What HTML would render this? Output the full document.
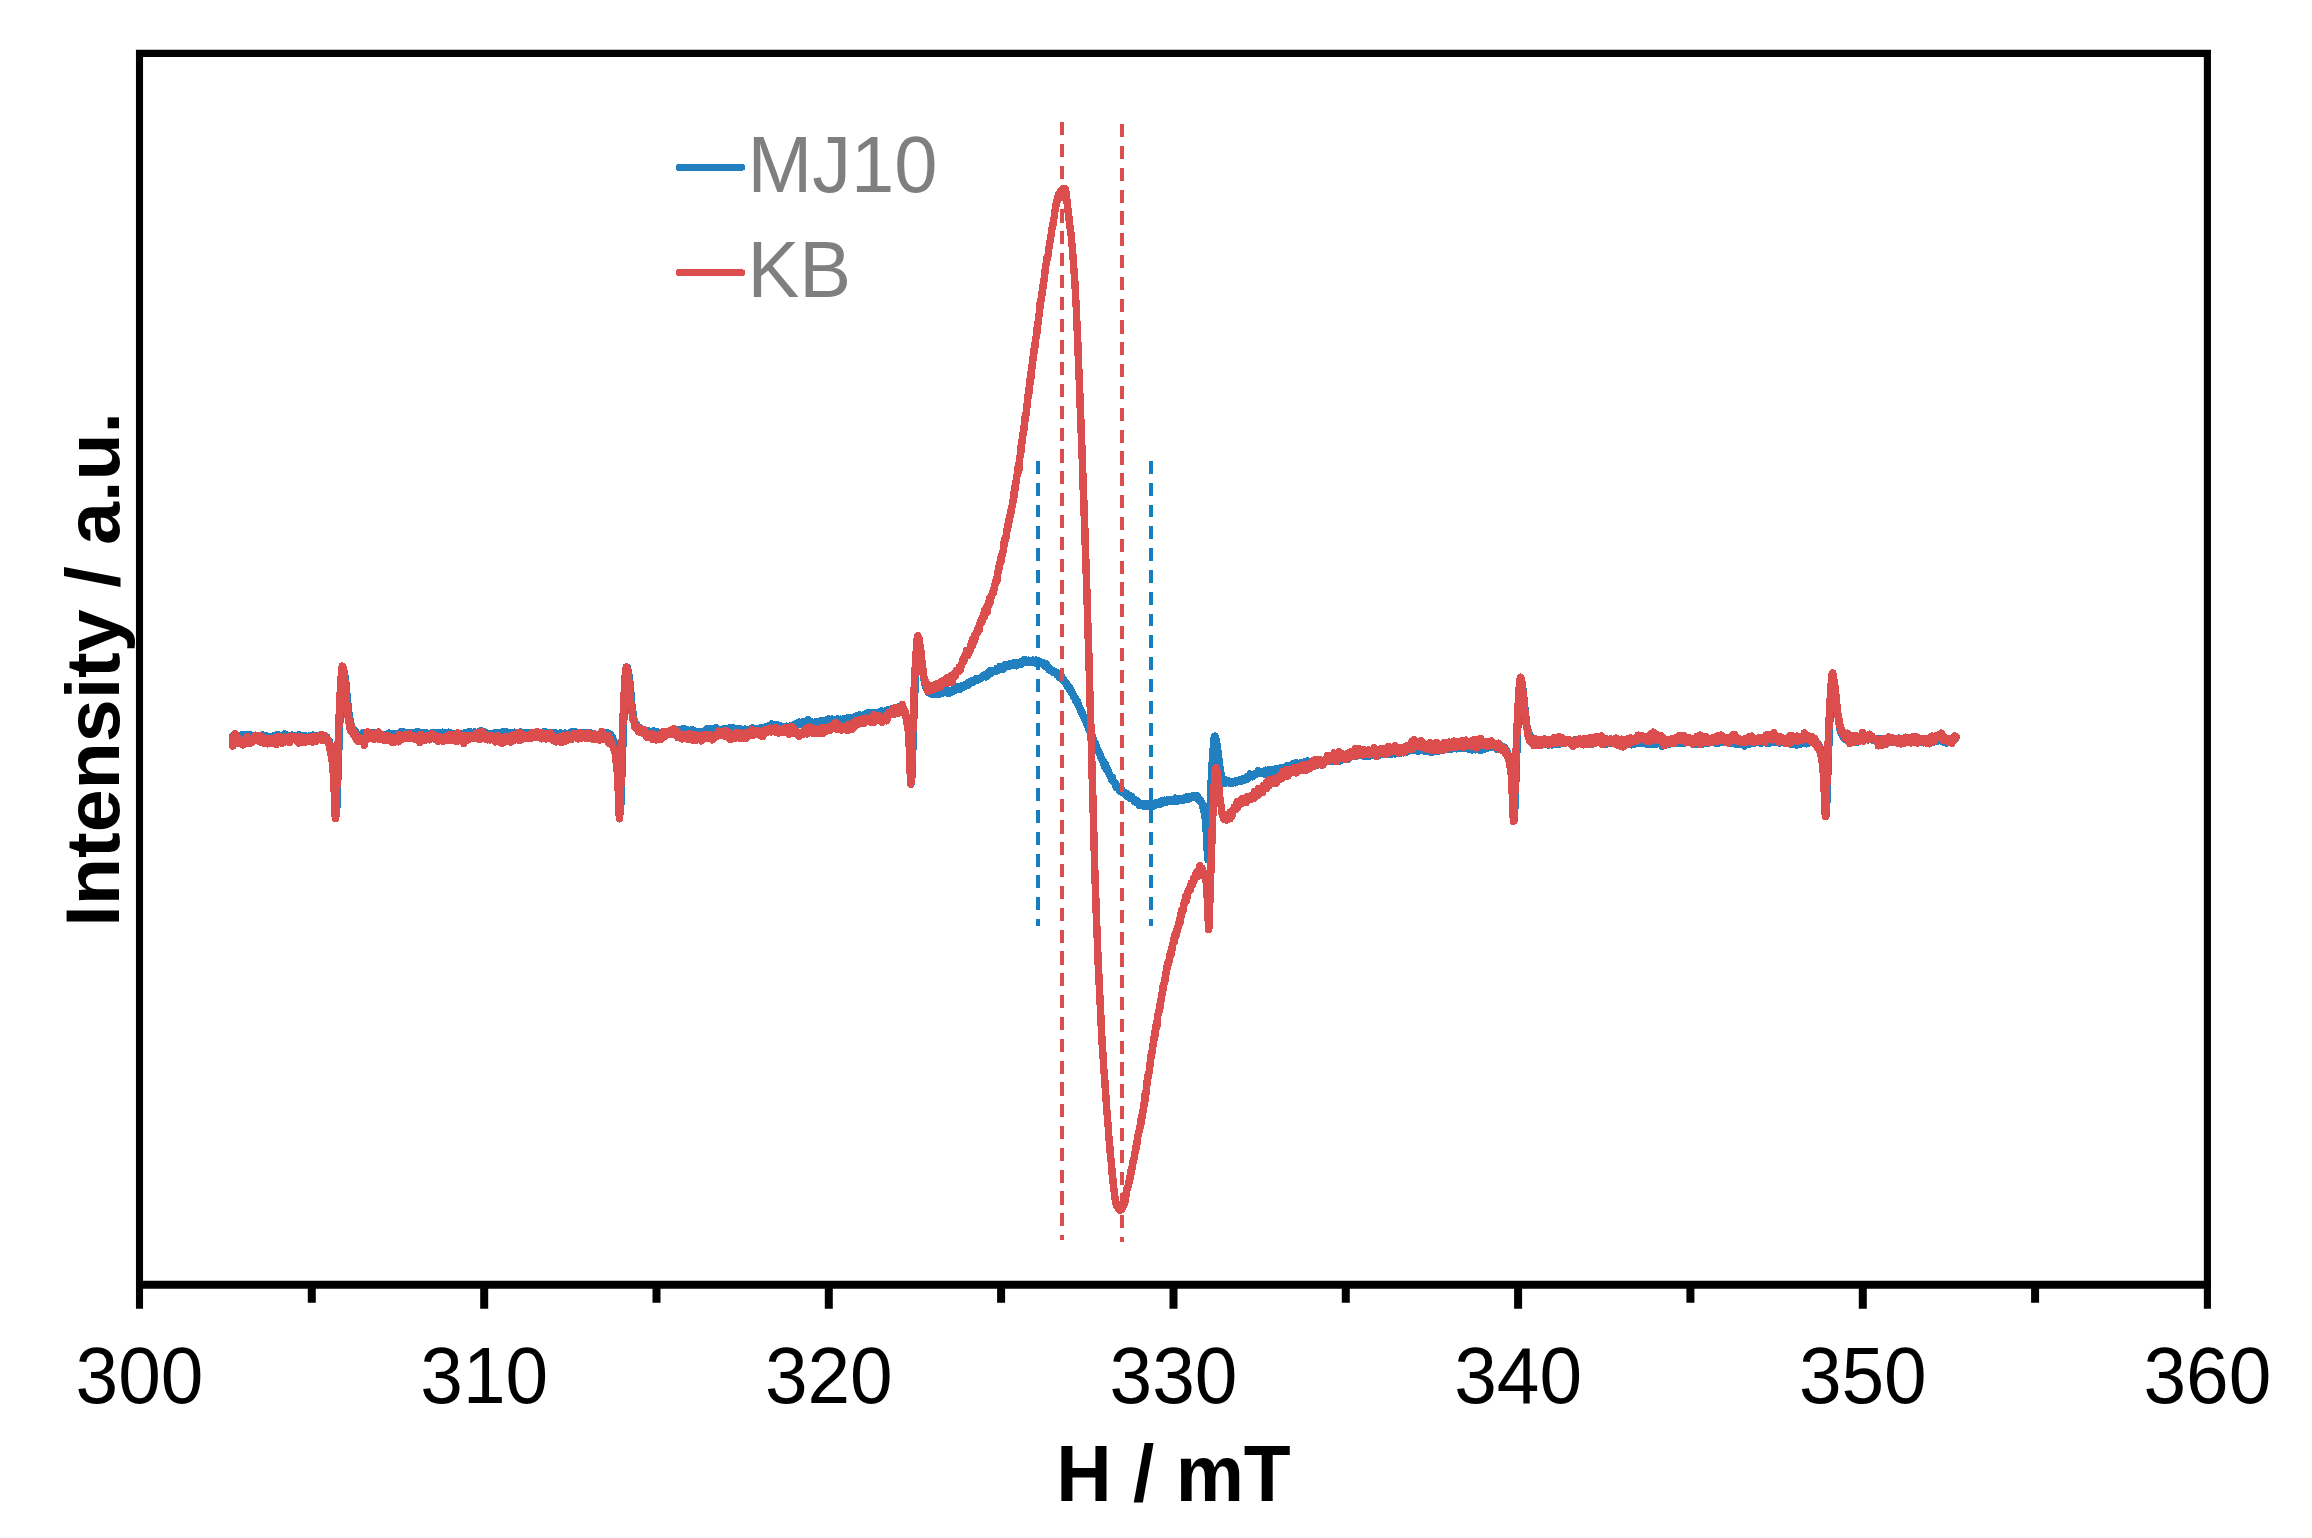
<!DOCTYPE html>
<html lang="en"><head><meta charset="utf-8"><title>EPR spectra</title>
<style>
html,body{margin:0;padding:0;background:#fff;}
body{width:2312px;height:1538px;overflow:hidden;}
svg{display:block;}
text{font-family:"Liberation Sans", Arial, Helvetica, sans-serif;}
.tk{font-size:76.6px;fill:#000;text-anchor:middle;}
.ax{font-size:76.7px;font-weight:bold;fill:#000;text-anchor:middle;}
.ay{font-size:77.2px;font-weight:bold;fill:#000;text-anchor:middle;}
.lg{font-size:77.7px;fill:#7F7F7F;}
</style></head><body>
<svg width="2312" height="1538" viewBox="0 0 2312 1538">
<rect width="2312" height="1538" fill="#fff"/>

<g fill="none" stroke-linecap="butt" shape-rendering="crispEdges">
<path d="M232.7,736.0 233.1,737.2 233.5,737.2 233.9,736.0 234.3,736.3 234.7,736.2 235.1,737.2 235.5,736.8 235.9,737.6 236.3,735.6 236.7,738.3 237.1,737.1 237.5,737.7 237.9,737.1 238.3,736.8 238.7,737.5 239.1,737.7 239.5,736.8 239.9,736.8 240.3,737.4 240.7,736.1 241.1,735.4 241.5,736.9 241.9,735.9 242.3,734.8 242.7,735.6 243.1,735.8 243.5,735.1 243.9,734.8 244.3,736.0 244.7,736.6 245.1,735.7 245.5,735.2 245.9,736.1 246.3,736.3 246.7,735.5 247.1,736.2 247.5,736.6 247.9,735.7 248.3,735.2 248.7,736.2 249.1,736.2 249.5,737.0 249.9,735.1 250.3,735.7 250.7,735.7 251.1,735.1 251.5,736.6 251.9,737.1 252.3,736.1 252.7,737.9 253.1,737.5 253.5,737.4 253.9,737.3 254.3,737.8 254.7,736.0 255.1,737.5 255.5,737.5 255.9,735.6 256.3,737.2 256.7,736.7 257.1,737.4 257.5,736.4 257.9,736.6 258.3,736.8 258.7,735.7 259.1,736.8 259.5,736.2 259.9,736.6 260.3,735.7 260.7,736.9 261.1,736.5 261.5,735.9 261.9,736.5 262.3,737.1 262.7,737.5 263.1,734.9 263.5,737.0 263.9,736.8 264.3,736.4 264.7,735.8 265.1,737.8 265.5,735.9 265.9,737.5 266.3,738.2 266.7,736.0 267.1,737.2 267.5,736.5 267.9,737.9 268.3,739.0 268.7,739.4 269.1,736.4 269.5,737.4 269.9,738.4 270.3,739.1 270.7,738.1 271.1,737.1 271.5,737.9 271.9,737.6 272.3,737.3 272.7,736.8 273.1,737.5 273.5,737.3 273.9,736.9 274.3,736.7 274.7,735.7 275.1,736.3 275.5,737.5 275.9,736.3 276.3,735.2 276.7,737.4 277.1,736.7 277.5,737.9 277.9,736.3 278.3,735.8 278.7,735.0 279.1,737.2 279.5,738.2 279.9,735.5 280.3,735.6 280.7,736.6 281.1,735.4 281.5,735.8 281.9,735.7 282.3,736.1 282.7,736.7 283.1,735.8 283.5,736.5 283.9,735.4 284.3,735.9 284.7,733.9 285.1,734.4 285.5,736.2 285.9,735.1 286.3,736.1 286.7,736.1 287.1,736.8 287.5,736.4 287.9,736.6 288.3,735.8 288.7,735.4 289.1,735.5 289.5,735.8 289.9,735.4 290.3,736.0 290.7,736.4 291.1,736.8 291.5,736.4 291.9,735.2 292.3,736.7 292.7,737.0 293.1,737.7 293.5,737.3 293.9,736.3 294.3,736.2 294.7,738.4 295.1,737.3 295.5,738.1 295.9,738.3 296.3,735.9 296.7,736.7 297.1,736.7 297.5,736.7 297.9,736.6 298.3,736.3 298.7,736.2 299.1,734.8 299.5,735.9 299.9,735.4 300.3,736.1 300.7,735.6 301.1,736.5 301.5,736.7 301.9,736.4 302.3,736.4 302.7,736.3 303.1,736.0 303.5,736.3 303.9,736.1 304.3,736.9 304.7,736.7 305.1,737.2 305.5,735.8 305.9,737.6 306.3,736.3 306.7,736.4 307.1,736.8 307.5,736.6 307.9,737.2 308.3,736.5 308.7,736.1 309.1,736.2 309.5,737.9 309.9,736.8 310.3,735.8 310.7,736.7 311.1,735.4 311.5,738.0 311.9,735.3 312.3,736.8 312.7,736.8 313.1,735.2 313.5,736.5 313.9,737.1 314.3,736.6 314.7,736.5 315.1,737.0 315.5,736.4 315.9,736.5 316.3,736.2 316.7,736.8 317.1,735.5 317.5,736.9 317.9,735.9 318.3,735.5 318.7,736.6 319.1,737.7 319.5,737.1 319.9,736.0 320.3,736.9 320.7,736.0 321.1,736.3 321.5,736.4 321.9,734.5 322.3,736.5 322.7,735.5 323.1,735.8 323.5,735.2 323.9,735.2 324.3,735.7 324.7,737.3 325.1,738.1 325.5,737.1 325.9,738.3 326.3,737.6 326.7,736.8 327.1,738.9 327.5,739.7 327.9,739.6 328.3,740.8 328.7,741.6 329.1,741.2 329.5,741.7 329.9,743.7 330.3,745.1 330.7,746.5 331.1,749.1 331.5,751.4 331.9,751.8 332.3,754.5 332.7,756.9 333.1,759.4 333.5,762.7 333.9,765.7 334.3,771.0 334.7,778.8 335.1,787.0 335.5,795.6 335.9,808.2 336.3,815.2 336.7,809.6 337.1,798.3 337.5,787.9 337.9,775.7 338.3,763.5 338.7,751.4 339.1,739.6 339.5,729.1 339.9,719.1 340.3,710.1 340.7,702.0 341.1,694.1 341.5,687.3 341.9,681.8 342.3,676.3 342.7,671.8 343.1,669.2 343.5,669.3 343.9,670.6 344.3,672.3 344.7,675.4 345.1,677.5 345.5,680.3 345.9,683.9 346.3,687.2 346.7,692.0 347.1,698.0 347.5,701.3 347.9,704.5 348.3,708.6 348.7,711.5 349.1,715.2 349.5,717.0 349.9,719.8 350.3,720.2 350.7,724.2 351.1,724.3 351.5,724.9 351.9,727.1 352.3,727.9 352.7,729.1 353.1,728.8 353.5,730.7 353.9,733.9 354.3,730.5 354.7,732.3 355.1,732.3 355.5,733.1 355.9,731.8 356.3,732.6 356.7,734.2 357.1,734.0 357.5,735.5 357.9,733.9 358.3,734.8 358.7,737.1 359.1,734.3 359.5,734.3 359.9,735.1 360.3,735.2 360.7,735.9 361.1,735.4 361.5,734.7 361.9,735.4 362.3,737.3 362.7,736.1 363.1,732.8 363.5,734.9 363.9,734.2 364.3,735.4 364.7,734.7 365.1,736.3 365.5,735.5 365.9,735.4 366.3,734.8 366.7,734.6 367.1,734.9 367.5,735.7 367.9,735.1 368.3,734.4 368.7,735.7 369.1,734.8 369.5,734.6 369.9,734.1 370.3,734.3 370.7,734.2 371.1,732.5 371.5,735.6 371.9,735.2 372.3,734.5 372.7,735.5 373.1,735.0 373.5,734.9 373.9,732.6 374.3,734.4 374.7,735.0 375.1,735.8 375.5,735.9 375.9,735.6 376.3,733.5 376.7,732.7 377.1,734.9 377.5,734.4 377.9,735.2 378.3,734.4 378.7,734.7 379.1,733.4 379.5,735.0 379.9,734.4 380.3,735.1 380.7,735.2 381.1,734.9 381.5,735.3 381.9,735.1 382.3,735.8 382.7,735.7 383.1,734.9 383.5,735.0 383.9,736.9 384.3,735.4 384.7,736.3 385.1,735.9 385.5,735.1 385.9,734.9 386.3,735.6 386.7,735.7 387.1,735.9 387.5,734.4 387.9,734.8 388.3,735.2 388.7,736.5 389.1,733.2 389.5,735.4 389.9,734.6 390.3,735.3 390.7,734.5 391.1,735.1 391.5,736.0 391.9,735.0 392.3,735.0 392.7,734.9 393.1,733.9 393.5,734.9 393.9,734.3 394.3,733.7 394.7,734.3 395.1,734.1 395.5,734.8 395.9,734.1 396.3,733.6 396.7,735.1 397.1,734.7 397.5,734.8 397.9,734.2 398.3,733.6 398.7,733.3 399.1,733.3 399.5,734.2 399.9,733.5 400.3,732.2 400.7,733.3 401.1,732.2 401.5,733.4 401.9,732.3 402.3,732.2 402.7,733.3 403.1,733.2 403.5,731.9 403.9,733.9 404.3,735.1 404.7,732.2 405.1,734.9 405.5,732.9 405.9,733.1 406.3,733.4 406.7,732.4 407.1,734.6 407.5,734.0 407.9,733.0 408.3,733.4 408.7,732.5 409.1,733.4 409.5,734.5 409.9,732.3 410.3,733.4 410.7,733.8 411.1,734.6 411.5,734.8 411.9,733.4 412.3,733.1 412.7,734.1 413.1,733.4 413.5,733.5 413.9,734.6 414.3,735.1 414.7,734.0 415.1,733.6 415.5,734.2 415.9,732.3 416.3,733.7 416.7,732.9 417.1,735.7 417.5,734.3 417.9,733.9 418.3,733.6 418.7,731.7 419.1,734.3 419.5,735.1 419.9,733.2 420.3,734.3 420.7,734.4 421.1,732.6 421.5,734.6 421.9,734.9 422.3,734.1 422.7,733.9 423.1,734.6 423.5,732.8 423.9,734.1 424.3,734.9 424.7,733.1 425.1,734.9 425.5,733.8 425.9,732.5 426.3,734.1 426.7,733.5 427.1,734.5 427.5,733.3 427.9,735.1 428.3,733.7 428.7,734.6 429.1,733.8 429.5,734.0 429.9,735.2 430.3,734.3 430.7,733.8 431.1,733.1 431.5,735.0 431.9,734.6 432.3,733.7 432.7,734.1 433.1,733.0 433.5,732.9 433.9,733.0 434.3,733.9 434.7,733.8 435.1,732.9 435.5,734.1 435.9,734.1 436.3,733.6 436.7,734.2 437.1,733.2 437.5,733.3 437.9,733.8 438.3,733.4 438.7,734.0 439.1,732.4 439.5,734.6 439.9,732.8 440.3,733.3 440.7,732.4 441.1,734.0 441.5,734.5 441.9,734.4 442.3,734.2 442.7,732.3 443.1,732.9 443.5,733.1 443.9,732.7 444.3,734.4 444.7,733.6 445.1,733.4 445.5,733.8 445.9,732.6 446.3,732.7 446.7,732.7 447.1,733.8 447.5,733.6 447.9,733.8 448.3,734.2 448.7,732.3 449.1,732.9 449.5,733.5 449.9,732.4 450.3,733.1 450.7,734.3 451.1,734.5 451.5,734.5 451.9,733.7 452.3,733.6 452.7,734.7 453.1,733.6 453.5,734.2 453.9,735.1 454.3,733.8 454.7,733.7 455.1,734.2 455.5,734.8 455.9,734.7 456.3,734.5 456.7,734.9 457.1,733.2 457.5,733.9 457.9,734.7 458.3,733.9 458.7,733.6 459.1,733.7 459.5,734.0 459.9,734.6 460.3,733.9 460.7,734.9 461.1,736.0 461.5,734.5 461.9,735.6 462.3,734.8 462.7,733.6 463.1,734.3 463.5,733.6 463.9,735.0 464.3,733.4 464.7,735.3 465.1,734.6 465.5,732.5 465.9,734.7 466.3,735.3 466.7,733.3 467.1,734.7 467.5,732.5 467.9,734.1 468.3,732.5 468.7,734.2 469.1,732.3 469.5,731.6 469.9,734.0 470.3,735.5 470.7,733.2 471.1,734.3 471.5,733.7 471.9,733.3 472.3,734.0 472.7,734.7 473.1,732.3 473.5,733.7 473.9,733.5 474.3,732.0 474.7,734.3 475.1,734.5 475.5,732.1 475.9,734.2 476.3,732.8 476.7,732.5 477.1,733.8 477.5,732.7 477.9,732.7 478.3,733.6 478.7,733.4 479.1,733.0 479.5,731.2 479.9,731.0 480.3,733.1 480.7,731.5 481.1,732.3 481.5,731.4 481.9,732.1 482.3,731.3 482.7,733.6 483.1,731.6 483.5,732.4 483.9,732.4 484.3,733.6 484.7,731.7 485.1,732.9 485.5,732.9 485.9,733.7 486.3,733.8 486.7,733.2 487.1,733.9 487.5,733.6 487.9,734.5 488.3,734.2 488.7,733.9 489.1,734.5 489.5,735.0 489.9,736.6 490.3,734.5 490.7,735.2 491.1,736.2 491.5,733.4 491.9,733.7 492.3,734.2 492.7,735.0 493.1,737.0 493.5,735.4 493.9,736.0 494.3,734.7 494.7,732.9 495.1,732.9 495.5,735.5 495.9,734.7 496.3,733.4 496.7,735.3 497.1,733.1 497.5,735.1 497.9,735.3 498.3,733.4 498.7,733.1 499.1,734.5 499.5,732.9 499.9,734.4 500.3,732.7 500.7,734.3 501.1,733.6 501.5,733.2 501.9,732.7 502.3,733.6 502.7,731.9 503.1,733.1 503.5,733.0 503.9,733.8 504.3,732.2 504.7,734.6 505.1,732.9 505.5,732.2 505.9,734.2 506.3,734.4 506.7,732.9 507.1,732.3 507.5,733.0 507.9,732.4 508.3,732.7 508.7,734.2 509.1,733.3 509.5,733.1 509.9,733.2 510.3,732.9 510.7,733.7 511.1,733.7 511.5,732.7 511.9,733.1 512.3,735.0 512.7,733.4 513.1,733.0 513.5,734.8 513.9,733.1 514.3,732.3 514.7,733.7 515.1,732.4 515.5,732.8 515.9,733.4 516.3,733.0 516.7,732.5 517.1,732.7 517.5,732.7 517.9,734.1 518.3,732.6 518.7,732.7 519.1,734.8 519.5,732.7 519.9,734.4 520.3,734.3 520.7,733.1 521.1,732.2 521.5,733.7 521.9,733.9 522.3,734.2 522.7,733.5 523.1,734.5 523.5,734.7 523.9,732.8 524.3,734.8 524.7,733.9 525.1,733.3 525.5,733.6 525.9,735.4 526.3,734.7 526.7,732.5 527.1,734.0 527.5,733.9 527.9,733.9 528.3,733.6 528.7,732.9 529.1,734.7 529.5,733.3 529.9,733.8 530.3,733.6 530.7,733.5 531.1,734.6 531.5,734.3 531.9,733.5 532.3,733.3 532.7,733.6 533.1,734.8 533.5,734.1 533.9,734.1 534.3,733.7 534.7,733.7 535.1,734.0 535.5,732.4 535.9,735.1 536.3,733.2 536.7,733.3 537.1,734.8 537.5,733.9 537.9,733.8 538.3,733.2 538.7,732.5 539.1,733.8 539.5,734.6 539.9,732.9 540.3,734.7 540.7,732.7 541.1,733.0 541.5,734.0 541.9,733.6 542.3,734.2 542.7,733.0 543.1,732.8 543.5,732.1 543.9,732.6 544.3,732.7 544.7,732.4 545.1,733.8 545.5,733.0 545.9,731.9 546.3,735.5 546.7,732.8 547.1,732.4 547.5,734.4 547.9,734.4 548.3,732.5 548.7,732.3 549.1,732.7 549.5,734.4 549.9,733.3 550.3,732.9 550.7,733.5 551.1,734.6 551.5,732.6 551.9,733.4 552.3,732.7 552.7,735.6 553.1,735.4 553.5,734.8 553.9,734.0 554.3,734.7 554.7,732.6 555.1,734.6 555.5,733.4 555.9,733.5 556.3,734.0 556.7,734.4 557.1,735.2 557.5,735.4 557.9,735.1 558.3,734.2 558.7,735.6 559.1,735.0 559.5,736.0 559.9,734.4 560.3,732.9 560.7,734.7 561.1,736.8 561.5,735.4 561.9,734.8 562.3,735.6 562.7,735.2 563.1,735.1 563.5,734.2 563.9,734.6 564.3,734.6 564.7,733.8 565.1,733.3 565.5,734.2 565.9,734.8 566.3,734.4 566.7,734.2 567.1,734.1 567.5,735.6 567.9,733.7 568.3,734.2 568.7,734.9 569.1,733.3 569.5,733.4 569.9,734.0 570.3,734.4 570.7,733.3 571.1,733.3 571.5,733.0 571.9,732.0 572.3,733.8 572.7,732.7 573.1,731.6 573.5,732.8 573.9,731.6 574.3,732.2 574.7,733.1 575.1,732.4 575.5,734.0 575.9,732.1 576.3,733.5 576.7,733.8 577.1,734.6 577.5,734.2 577.9,733.8 578.3,733.7 578.7,733.6 579.1,734.6 579.5,733.2 579.9,734.2 580.3,733.7 580.7,734.0 581.1,733.6 581.5,735.5 581.9,733.2 582.3,733.9 582.7,733.9 583.1,734.1 583.5,734.0 583.9,733.9 584.3,734.3 584.7,732.3 585.1,733.5 585.5,732.5 585.9,733.7 586.3,732.6 586.7,732.8 587.1,733.6 587.5,734.8 587.9,734.2 588.3,734.1 588.7,735.0 589.1,733.3 589.5,732.4 589.9,733.9 590.3,734.1 590.7,735.5 591.1,736.3 591.5,733.7 591.9,736.9 592.3,736.3 592.7,735.8 593.1,735.5 593.5,737.3 593.9,735.5 594.3,735.2 594.7,735.8 595.1,734.6 595.5,736.2 595.9,735.8 596.3,736.2 596.7,736.2 597.1,735.1 597.5,737.1 597.9,735.2 598.3,736.7 598.7,734.7 599.1,736.3 599.5,735.3 599.9,736.0 600.3,735.3 600.7,734.1 601.1,734.8 601.5,735.7 601.9,736.1 602.3,734.3 602.7,733.6 603.1,734.5 603.5,734.9 603.9,734.4 604.3,734.1 604.7,735.3 605.1,735.3 605.5,734.9 605.9,733.5 606.3,734.1 606.7,733.8 607.1,732.7 607.5,734.4 607.9,733.7 608.3,733.2 608.7,734.8 609.1,734.5 609.5,734.8 609.9,735.4 610.3,735.3 610.7,734.2 611.1,735.4 611.5,737.0 611.9,736.2 612.3,737.5 612.7,738.4 613.1,739.9 613.5,740.7 613.9,741.6 614.3,742.2 614.7,744.5 615.1,746.0 615.5,747.3 615.9,750.2 616.3,751.7 616.7,753.2 617.1,757.0 617.5,759.4 617.9,763.6 618.3,767.3 618.7,775.3 619.1,783.7 619.5,792.8 619.9,804.8 620.3,812.8 620.7,806.8 621.1,795.8 621.5,785.2 621.9,773.1 622.3,760.7 622.7,748.5 623.1,737.0 623.5,726.4 623.9,716.8 624.3,708.3 624.7,699.9 625.1,692.4 625.5,686.2 625.9,681.1 626.3,675.5 626.7,671.0 627.1,667.8 627.5,667.7 627.9,669.7 628.3,671.7 628.7,674.0 629.1,677.2 629.5,679.6 629.9,682.4 630.3,686.8 630.7,692.0 631.1,696.4 631.5,700.3 631.9,705.6 632.3,707.3 632.7,711.0 633.1,713.2 633.5,716.2 633.9,718.8 634.3,720.6 634.7,721.7 635.1,723.5 635.5,724.5 635.9,724.0 636.3,723.6 636.7,728.7 637.1,728.1 637.5,728.0 637.9,727.1 638.3,727.9 638.7,730.3 639.1,727.3 639.5,729.6 639.9,730.7 640.3,730.3 640.7,730.9 641.1,730.4 641.5,732.5 641.9,729.9 642.3,729.7 642.7,731.2 643.1,732.2 643.5,731.1 643.9,732.1 644.3,730.9 644.7,730.5 645.1,732.6 645.5,732.9 645.9,732.9 646.3,731.4 646.7,730.8 647.1,730.9 647.5,731.7 647.9,732.4 648.3,732.4 648.7,730.9 649.1,732.2 649.5,732.1 649.9,732.3 650.3,732.2 650.7,732.1 651.1,732.8 651.5,732.5 651.9,732.7 652.3,732.0 652.7,732.9 653.1,732.5 653.5,731.0 653.9,733.1 654.3,732.6 654.7,733.6 655.1,732.8 655.5,732.8 655.9,733.1 656.3,733.0 656.7,732.6 657.1,731.6 657.5,734.5 657.9,731.8 658.3,732.7 658.7,733.5 659.1,733.3 659.5,733.5 659.9,733.6 660.3,734.0 660.7,733.2 661.1,735.3 661.5,732.2 661.9,733.2 662.3,732.8 662.7,732.7 663.1,733.4 663.5,734.3 663.9,732.6 664.3,732.6 664.7,733.8 665.1,733.7 665.5,734.8 665.9,734.1 666.3,733.4 666.7,733.0 667.1,733.4 667.5,733.0 667.9,732.0 668.3,733.0 668.7,732.7 669.1,732.5 669.5,732.3 669.9,733.8 670.3,732.9 670.7,732.9 671.1,731.5 671.5,731.0 671.9,731.5 672.3,731.7 672.7,731.1 673.1,731.1 673.5,731.9 673.9,731.2 674.3,730.1 674.7,730.5 675.1,730.2 675.5,730.8 675.9,729.7 676.3,730.4 676.7,731.1 677.1,730.5 677.5,729.7 677.9,730.0 678.3,730.6 678.7,730.9 679.1,731.2 679.5,730.4 679.9,729.5 680.3,731.7 680.7,730.9 681.1,731.0 681.5,731.0 681.9,729.9 682.3,730.5 682.7,731.0 683.1,731.7 683.5,731.0 683.9,728.5 684.3,730.8 684.7,731.3 685.1,732.1 685.5,731.6 685.9,733.1 686.3,732.2 686.7,732.1 687.1,731.8 687.5,729.9 687.9,731.7 688.3,731.5 688.7,730.6 689.1,731.5 689.5,731.3 689.9,730.6 690.3,730.9 690.7,730.8 691.1,731.3 691.5,730.8 691.9,731.6 692.3,729.7 692.7,731.1 693.1,730.1 693.5,731.2 693.9,732.1 694.3,731.9 694.7,731.9 695.1,732.2 695.5,733.6 695.9,731.6 696.3,733.4 696.7,731.6 697.1,732.6 697.5,733.2 697.9,732.5 698.3,733.4 698.7,733.9 699.1,732.4 699.5,733.3 699.9,733.1 700.3,731.8 700.7,733.1 701.1,732.6 701.5,734.2 701.9,732.3 702.3,734.2 702.7,732.3 703.1,734.1 703.5,732.8 703.9,732.5 704.3,732.6 704.7,732.5 705.1,732.7 705.5,732.8 705.9,731.0 706.3,730.1 706.7,728.8 707.1,730.5 707.5,731.2 707.9,730.8 708.3,730.5 708.7,730.0 709.1,729.7 709.5,729.9 709.9,730.3 710.3,728.5 710.7,730.5 711.1,728.7 711.5,729.7 711.9,729.3 712.3,729.5 712.7,728.9 713.1,728.8 713.5,729.5 713.9,728.9 714.3,731.7 714.7,729.4 715.1,729.2 715.5,729.4 715.9,729.0 716.3,727.9 716.7,729.7 717.1,730.2 717.5,728.7 717.9,730.0 718.3,729.1 718.7,730.0 719.1,730.4 719.5,730.5 719.9,730.5 720.3,729.6 720.7,730.9 721.1,729.9 721.5,730.6 721.9,730.9 722.3,730.1 722.7,729.3 723.1,730.8 723.5,729.4 723.9,729.6 724.3,729.4 724.7,730.9 725.1,730.1 725.5,728.3 725.9,730.7 726.3,731.7 726.7,731.4 727.1,729.4 727.5,729.8 727.9,730.1 728.3,730.3 728.7,729.5 729.1,728.5 729.5,729.8 729.9,729.6 730.3,728.0 730.7,728.6 731.1,729.1 731.5,728.8 731.9,729.1 732.3,729.3 732.7,729.1 733.1,728.6 733.5,727.6 733.9,729.2 734.3,729.9 734.7,730.4 735.1,728.9 735.5,729.0 735.9,730.3 736.3,730.4 736.7,729.6 737.1,730.0 737.5,729.0 737.9,730.2 738.3,729.1 738.7,729.8 739.1,729.9 739.5,729.7 739.9,728.4 740.3,729.5 740.7,730.5 741.1,730.2 741.5,730.0 741.9,730.7 742.3,730.9 742.7,731.0 743.1,729.7 743.5,730.4 743.9,730.1 744.3,729.7 744.7,729.2 745.1,730.3 745.5,729.7 745.9,732.1 746.3,730.3 746.7,730.2 747.1,730.0 747.5,731.9 747.9,729.6 748.3,730.2 748.7,729.7 749.1,730.2 749.5,730.3 749.9,731.2 750.3,729.1 750.7,730.2 751.1,731.5 751.5,729.8 751.9,730.0 752.3,729.4 752.7,728.0 753.1,730.0 753.5,731.0 753.9,729.7 754.3,728.5 754.7,730.2 755.1,730.0 755.5,730.7 755.9,730.7 756.3,729.7 756.7,730.2 757.1,728.4 757.5,730.7 757.9,730.0 758.3,730.7 758.7,730.6 759.1,729.5 759.5,729.6 759.9,729.0 760.3,728.0 760.7,729.5 761.1,729.6 761.5,728.6 761.9,730.0 762.3,729.4 762.7,729.6 763.1,728.5 763.5,727.6 763.9,729.6 764.3,729.3 764.7,728.6 765.1,728.2 765.5,728.2 765.9,728.2 766.3,727.8 766.7,726.4 767.1,728.5 767.5,726.5 767.9,727.3 768.3,727.2 768.7,727.5 769.1,725.9 769.5,728.0 769.9,727.5 770.3,727.4 770.7,727.7 771.1,725.9 771.5,724.0 771.9,726.6 772.3,727.3 772.7,727.1 773.1,725.7 773.5,726.0 773.9,726.2 774.3,724.5 774.7,725.3 775.1,725.3 775.5,727.1 775.9,725.3 776.3,727.1 776.7,725.9 777.1,724.6 777.5,727.7 777.9,725.3 778.3,726.6 778.7,727.6 779.1,725.9 779.5,725.5 779.9,727.5 780.3,726.8 780.7,725.9 781.1,726.2 781.5,726.9 781.9,728.1 782.3,727.2 782.7,728.0 783.1,728.9 783.5,728.7 783.9,728.9 784.3,728.7 784.7,726.5 785.1,728.7 785.5,728.0 785.9,727.6 786.3,726.8 786.7,726.3 787.1,726.7 787.5,727.5 787.9,726.5 788.3,726.6 788.7,726.7 789.1,727.6 789.5,726.8 789.9,726.8 790.3,727.8 790.7,726.4 791.1,727.0 791.5,725.5 791.9,726.5 792.3,726.2 792.7,726.1 793.1,725.4 793.5,724.8 793.9,725.2 794.3,724.9 794.7,726.0 795.1,725.8 795.5,723.9 795.9,725.3 796.3,724.2 796.7,724.9 797.1,724.0 797.5,723.1 797.9,725.0 798.3,724.4 798.7,723.0 799.1,722.3 799.5,723.3 799.9,722.7 800.3,723.2 800.7,723.9 801.1,724.5 801.5,722.9 801.9,724.2 802.3,723.9 802.7,722.6 803.1,721.5 803.5,723.4 803.9,723.1 804.3,724.4 804.7,723.6 805.1,723.1 805.5,723.7 805.9,721.5 806.3,722.5 806.7,722.1 807.1,723.7 807.5,722.7 807.9,719.8 808.3,723.4 808.7,721.6 809.1,723.0 809.5,722.0 809.9,722.6 810.3,723.0 810.7,722.7 811.1,721.8 811.5,723.8 811.9,723.0 812.3,722.8 812.7,723.4 813.1,722.4 813.5,724.4 813.9,723.1 814.3,723.3 814.7,723.3 815.1,722.3 815.5,722.1 815.9,723.2 816.3,723.3 816.7,724.0 817.1,723.3 817.5,722.0 817.9,723.3 818.3,723.5 818.7,723.6 819.1,723.0 819.5,721.7 819.9,723.5 820.3,721.9 820.7,722.9 821.1,721.1 821.5,722.9 821.9,721.6 822.3,723.0 822.7,723.5 823.1,722.9 823.5,721.0 823.9,721.0 824.3,721.0 824.7,722.1 825.1,721.8 825.5,721.5 825.9,721.5 826.3,721.7 826.7,721.6 827.1,722.3 827.5,720.8 827.9,720.9 828.3,719.1 828.7,719.4 829.1,719.8 829.5,719.3 829.9,720.3 830.3,720.9 830.7,719.6 831.1,719.4 831.5,719.3 831.9,719.8 832.3,719.1 832.7,719.9 833.1,719.7 833.5,719.7 833.9,720.0 834.3,719.4 834.7,719.5 835.1,720.8 835.5,719.3 835.9,720.0 836.3,719.5 836.7,719.1 837.1,719.1 837.5,718.9 837.9,719.6 838.3,719.1 838.7,719.3 839.1,720.7 839.5,719.6 839.9,720.7 840.3,720.0 840.7,720.5 841.1,719.3 841.5,719.9 841.9,721.9 842.3,720.4 842.7,720.5 843.1,719.9 843.5,720.4 843.9,718.7 844.3,718.9 844.7,719.9 845.1,720.2 845.5,719.2 845.9,719.4 846.3,719.2 846.7,719.3 847.1,718.4 847.5,718.2 847.9,719.2 848.3,717.8 848.7,718.3 849.1,718.4 849.5,718.0 849.9,718.9 850.3,718.3 850.7,718.4 851.1,717.5 851.5,717.6 851.9,718.5 852.3,718.2 852.7,717.4 853.1,718.0 853.5,717.7 853.9,717.6 854.3,718.6 854.7,716.9 855.1,717.5 855.5,717.4 855.9,716.8 856.3,716.0 856.7,717.4 857.1,717.0 857.5,716.8 857.9,716.7 858.3,716.7 858.7,715.9 859.1,716.8 859.5,715.0 859.9,716.4 860.3,715.1 860.7,716.0 861.1,716.7 861.5,715.9 861.9,715.6 862.3,716.3 862.7,715.6 863.1,715.4 863.5,715.3 863.9,716.7 864.3,715.9 864.7,715.7 865.1,714.2 865.5,715.5 865.9,713.9 866.3,715.2 866.7,713.8 867.1,716.1 867.5,713.1 867.9,715.3 868.3,714.9 868.7,712.7 869.1,713.9 869.5,715.1 869.9,714.8 870.3,712.5 870.7,713.3 871.1,712.7 871.5,712.8 871.9,713.1 872.3,715.0 872.7,713.6 873.1,713.3 873.5,713.2 873.9,714.0 874.3,714.0 874.7,712.7 875.1,714.6 875.5,712.6 875.9,713.2 876.3,713.8 876.7,714.8 877.1,713.1 877.5,713.6 877.9,714.4 878.3,713.8 878.7,714.1 879.1,714.0 879.5,713.3 879.9,713.5 880.3,713.6 880.7,712.7 881.1,713.9 881.5,710.9 881.9,711.7 882.3,713.5 882.7,712.5 883.1,711.5 883.5,712.2 883.9,712.7 884.3,711.3 884.7,712.2 885.1,711.4 885.5,711.3 885.9,711.2 886.3,712.1 886.7,710.2 887.1,710.7 887.5,711.4 887.9,709.8 888.3,709.5 888.7,711.1 889.1,710.5 889.5,710.3 889.9,710.5 890.3,709.5 890.7,712.5 891.1,709.2 891.5,709.6 891.9,708.7 892.3,709.3 892.7,710.8 893.1,709.5 893.5,709.8 893.9,708.8 894.3,710.5 894.7,709.1 895.1,707.9 895.5,709.4 895.9,708.4 896.3,709.1 896.7,708.6 897.1,708.7 897.5,708.5 897.9,707.6 898.3,707.1 898.7,709.0 899.1,708.1 899.5,708.5 899.9,708.0 900.3,707.0 900.7,707.8 901.1,710.2 901.5,708.8 901.9,709.4 902.3,709.0 902.7,710.1 903.1,710.6 903.5,711.2 903.9,711.7 904.3,711.8 904.7,712.6 905.1,714.0 905.5,715.4 905.9,716.4 906.3,719.2 906.7,719.7 907.1,721.4 907.5,722.8 907.9,726.0 908.3,727.5 908.7,730.4 909.1,734.7 909.5,740.8 909.9,747.8 910.3,757.7 910.7,767.0 911.1,778.7 911.5,782.7 911.9,775.6 912.3,763.3 912.7,752.3 913.1,740.2 913.5,727.6 913.9,715.4 914.3,703.4 914.7,693.7 915.1,685.0 915.5,677.3 915.9,670.0 916.3,662.9 916.7,657.6 917.1,652.0 917.5,647.2 917.9,642.9 918.3,641.3 918.7,642.1 919.1,642.8 919.5,645.4 919.9,646.8 920.3,649.5 920.7,651.8 921.1,654.8 921.5,658.9 921.9,663.5 922.3,668.7 922.7,669.0 923.1,673.2 923.5,675.9 923.9,678.1 924.3,681.5 924.7,682.5 925.1,684.6 925.5,687.0 925.9,685.7 926.3,688.6 926.7,689.6 927.1,689.2 927.5,690.9 927.9,691.2 928.3,691.1 928.7,692.7 929.1,691.0 929.5,692.8 929.9,692.4 930.3,691.9 930.7,692.8 931.1,692.7 931.5,693.8 931.9,692.0 932.3,693.1 932.7,692.9 933.1,694.6 933.5,692.5 933.9,694.3 934.3,692.0 934.7,693.7 935.1,693.3 935.5,693.7 935.9,692.8 936.3,691.8 936.7,692.0 937.1,694.2 937.5,693.3 937.9,692.3 938.3,693.6 938.7,692.1 939.1,692.0 939.5,691.5 939.9,693.3 940.3,693.8 940.7,691.3 941.1,692.2 941.5,692.6 941.9,693.4 942.3,689.7 942.7,691.7 943.1,692.0 943.5,690.3 943.9,691.7 944.3,691.5 944.7,692.0 945.1,690.9 945.5,691.7 945.9,690.9 946.3,692.0 946.7,691.6 947.1,691.2 947.5,690.4 947.9,692.9 948.3,692.5 948.7,692.4 949.1,691.1 949.5,691.4 949.9,692.9 950.3,692.1 950.7,690.8 951.1,691.4 951.5,691.4 951.9,691.0 952.3,690.2 952.7,691.8 953.1,691.1 953.5,690.3 953.9,689.0 954.3,689.6 954.7,689.9 955.1,690.4 955.5,689.2 955.9,690.1 956.3,689.2 956.7,688.3 957.1,686.4 957.5,687.5 957.9,687.1 958.3,688.0 958.7,688.2 959.1,688.9 959.5,687.6 959.9,686.5 960.3,689.2 960.7,687.4 961.1,686.8 961.5,686.7 961.9,685.7 962.3,687.2 962.7,686.8 963.1,687.6 963.5,687.1 963.9,686.8 964.3,686.9 964.7,685.5 965.1,685.2 965.5,685.4 965.9,684.3 966.3,684.9 966.7,684.6 967.1,685.2 967.5,684.4 967.9,682.7 968.3,684.1 968.7,684.9 969.1,682.1 969.5,682.8 969.9,683.2 970.3,681.8 970.7,682.2 971.1,682.5 971.5,681.2 971.9,682.2 972.3,682.1 972.7,680.5 973.1,681.3 973.5,681.9 973.9,680.7 974.3,681.0 974.7,680.9 975.1,680.0 975.5,680.8 975.9,680.1 976.3,678.8 976.7,679.8 977.1,679.9 977.5,679.7 977.9,678.4 978.3,679.1 978.7,679.7 979.1,678.6 979.5,679.2 979.9,679.2 980.3,677.9 980.7,678.4 981.1,677.4 981.5,678.4 981.9,677.3 982.3,676.7 982.7,676.9 983.1,676.7 983.5,676.8 983.9,676.7 984.3,675.1 984.7,675.3 985.1,675.8 985.5,675.6 985.9,675.1 986.3,676.8 986.7,675.3 987.1,674.1 987.5,674.5 987.9,674.7 988.3,673.7 988.7,671.8 989.1,673.0 989.5,672.7 989.9,674.2 990.3,670.8 990.7,673.3 991.1,671.8 991.5,672.5 991.9,671.3 992.3,671.5 992.7,672.2 993.1,671.2 993.5,671.8 993.9,670.8 994.3,670.4 994.7,670.4 995.1,670.0 995.5,670.2 995.9,671.2 996.3,669.1 996.7,668.5 997.1,669.7 997.5,670.9 997.9,670.3 998.3,670.4 998.7,670.2 999.1,668.4 999.5,669.0 999.9,666.6 1000.3,668.1 1000.7,668.9 1001.1,667.0 1001.5,666.5 1001.9,666.9 1002.3,667.9 1002.7,668.5 1003.1,669.5 1003.5,668.4 1003.9,665.8 1004.3,665.0 1004.7,666.7 1005.1,667.3 1005.5,664.9 1005.9,665.6 1006.3,665.5 1006.7,665.7 1007.1,665.3 1007.5,665.7 1007.9,665.9 1008.3,665.0 1008.7,665.3 1009.1,666.2 1009.5,663.6 1009.9,663.5 1010.3,664.6 1010.7,665.6 1011.1,664.2 1011.5,664.9 1011.9,663.7 1012.3,664.6 1012.7,663.3 1013.1,664.4 1013.5,664.1 1013.9,664.1 1014.3,664.9 1014.7,664.6 1015.1,663.2 1015.5,664.4 1015.9,662.3 1016.3,664.4 1016.7,665.8 1017.1,664.0 1017.5,663.9 1017.9,663.5 1018.3,664.1 1018.7,663.0 1019.1,663.8 1019.5,663.0 1019.9,662.8 1020.3,663.1 1020.7,662.9 1021.1,661.4 1021.5,664.4 1021.9,662.7 1022.3,661.1 1022.7,663.2 1023.1,662.2 1023.5,662.3 1023.9,662.5 1024.3,661.1 1024.7,659.4 1025.1,661.6 1025.5,661.7 1025.9,662.3 1026.3,660.8 1026.7,661.1 1027.1,661.6 1027.5,660.9 1027.9,660.9 1028.3,661.3 1028.7,660.3 1029.1,662.3 1029.5,660.3 1029.9,661.1 1030.3,660.8 1030.7,660.5 1031.1,661.5 1031.5,661.9 1031.9,662.3 1032.3,661.6 1032.7,660.8 1033.1,661.9 1033.5,660.1 1033.9,661.4 1034.3,661.8 1034.7,661.9 1035.1,660.5 1035.5,660.3 1035.9,662.9 1036.3,661.2 1036.7,660.3 1037.1,660.7 1037.5,661.8 1037.9,662.8 1038.3,661.9 1038.7,662.9 1039.1,662.2 1039.5,662.5 1039.9,663.0 1040.3,662.0 1040.7,662.7 1041.1,662.2 1041.5,662.2 1041.9,663.4 1042.3,662.4 1042.7,663.3 1043.1,662.9 1043.5,663.7 1043.9,663.6 1044.3,665.2 1044.7,664.7 1045.1,665.0 1045.5,666.6 1045.9,663.3 1046.3,665.0 1046.7,664.1 1047.1,666.6 1047.5,667.3 1047.9,667.8 1048.3,667.9 1048.7,667.3 1049.1,669.8 1049.5,669.0 1049.9,668.9 1050.3,668.5 1050.7,670.1 1051.1,669.7 1051.5,670.0 1051.9,670.8 1052.3,671.1 1052.7,670.6 1053.1,672.5 1053.5,671.0 1053.9,671.2 1054.3,672.5 1054.7,672.6 1055.1,672.8 1055.5,672.7 1055.9,673.3 1056.3,673.0 1056.7,672.4 1057.1,674.6 1057.5,673.4 1057.9,674.3 1058.3,675.3 1058.7,675.0 1059.1,677.5 1059.5,674.5 1059.9,675.3 1060.3,676.3 1060.7,677.7 1061.1,676.8 1061.5,676.3 1061.9,678.8 1062.3,677.6 1062.7,678.6 1063.1,680.0 1063.5,679.2 1063.9,679.9 1064.3,681.2 1064.7,681.2 1065.1,682.2 1065.5,681.8 1065.9,683.1 1066.3,682.9 1066.7,683.1 1067.1,686.4 1067.5,686.0 1067.9,687.0 1068.3,686.1 1068.7,687.5 1069.1,688.0 1069.5,687.6 1069.9,689.9 1070.3,689.5 1070.7,690.5 1071.1,690.1 1071.5,692.8 1071.9,693.3 1072.3,693.7 1072.7,693.3 1073.1,694.3 1073.5,696.4 1073.9,695.9 1074.3,697.1 1074.7,697.7 1075.1,697.4 1075.5,700.3 1075.9,698.3 1076.3,700.8 1076.7,701.4 1077.1,700.9 1077.5,703.3 1077.9,704.2 1078.3,704.7 1078.7,704.8 1079.1,706.7 1079.5,708.0 1079.9,708.2 1080.3,710.2 1080.7,710.4 1081.1,711.2 1081.5,712.6 1081.9,711.8 1082.3,712.8 1082.7,714.5 1083.1,715.4 1083.5,717.2 1083.9,717.8 1084.3,718.0 1084.7,718.9 1085.1,719.5 1085.5,720.4 1085.9,721.2 1086.3,723.3 1086.7,723.1 1087.1,724.2 1087.5,725.6 1087.9,726.0 1088.3,727.2 1088.7,726.6 1089.1,729.6 1089.5,730.0 1089.9,731.4 1090.3,732.4 1090.7,731.6 1091.1,736.0 1091.5,735.1 1091.9,736.1 1092.3,735.4 1092.7,738.3 1093.1,739.0 1093.5,739.3 1093.9,740.7 1094.3,742.5 1094.7,742.1 1095.1,742.6 1095.5,745.3 1095.9,745.4 1096.3,746.0 1096.7,748.9 1097.1,748.2 1097.5,748.9 1097.9,750.2 1098.3,750.6 1098.7,752.0 1099.1,752.9 1099.5,753.2 1099.9,754.4 1100.3,755.8 1100.7,756.7 1101.1,757.8 1101.5,758.8 1101.9,759.2 1102.3,760.3 1102.7,760.4 1103.1,761.3 1103.5,763.1 1103.9,761.5 1104.3,764.2 1104.7,767.2 1105.1,764.0 1105.5,767.5 1105.9,765.6 1106.3,768.1 1106.7,769.9 1107.1,770.6 1107.5,769.5 1107.9,770.0 1108.3,770.6 1108.7,773.2 1109.1,773.1 1109.5,774.2 1109.9,775.2 1110.3,776.1 1110.7,777.0 1111.1,777.4 1111.5,776.8 1111.9,780.0 1112.3,777.3 1112.7,781.2 1113.1,780.4 1113.5,781.4 1113.9,781.8 1114.3,782.6 1114.7,783.5 1115.1,783.9 1115.5,783.8 1115.9,785.9 1116.3,785.4 1116.7,787.4 1117.1,786.8 1117.5,786.8 1117.9,788.2 1118.3,789.0 1118.7,788.0 1119.1,789.0 1119.5,790.8 1119.9,789.2 1120.3,789.7 1120.7,790.8 1121.1,790.1 1121.5,789.4 1121.9,790.3 1122.3,792.2 1122.7,792.7 1123.1,792.9 1123.5,792.9 1123.9,791.9 1124.3,793.7 1124.7,794.3 1125.1,793.0 1125.5,794.6 1125.9,793.8 1126.3,794.5 1126.7,795.0 1127.1,793.8 1127.5,796.4 1127.9,794.9 1128.3,795.8 1128.7,795.8 1129.1,796.9 1129.5,797.2 1129.9,797.1 1130.3,798.6 1130.7,798.0 1131.1,797.7 1131.5,796.1 1131.9,798.4 1132.3,798.7 1132.7,798.5 1133.1,798.8 1133.5,800.2 1133.9,800.8 1134.3,801.7 1134.7,801.3 1135.1,800.1 1135.5,801.1 1135.9,800.0 1136.3,801.9 1136.7,801.8 1137.1,801.2 1137.5,801.8 1137.9,801.9 1138.3,801.8 1138.7,803.6 1139.1,805.2 1139.5,803.6 1139.9,804.0 1140.3,803.5 1140.7,803.3 1141.1,805.6 1141.5,803.7 1141.9,804.5 1142.3,804.3 1142.7,805.1 1143.1,804.7 1143.5,805.4 1143.9,804.1 1144.3,805.1 1144.7,806.4 1145.1,804.5 1145.5,804.9 1145.9,806.6 1146.3,805.8 1146.7,806.3 1147.1,803.6 1147.5,805.5 1147.9,804.3 1148.3,804.1 1148.7,805.5 1149.1,806.0 1149.5,803.8 1149.9,804.0 1150.3,804.3 1150.7,804.6 1151.1,803.5 1151.5,806.3 1151.9,804.9 1152.3,804.1 1152.7,804.0 1153.1,806.2 1153.5,806.1 1153.9,803.9 1154.3,804.5 1154.7,805.2 1155.1,803.2 1155.5,803.7 1155.9,805.2 1156.3,803.5 1156.7,803.6 1157.1,802.8 1157.5,803.2 1157.9,804.2 1158.3,802.9 1158.7,802.4 1159.1,802.8 1159.5,804.6 1159.9,803.2 1160.3,802.5 1160.7,802.9 1161.1,803.0 1161.5,802.6 1161.9,800.9 1162.3,802.5 1162.7,802.0 1163.1,802.7 1163.5,800.8 1163.9,802.6 1164.3,801.3 1164.7,800.2 1165.1,802.6 1165.5,801.0 1165.9,801.6 1166.3,801.1 1166.7,802.1 1167.1,802.0 1167.5,801.9 1167.9,801.5 1168.3,799.6 1168.7,799.5 1169.1,800.9 1169.5,799.9 1169.9,801.0 1170.3,800.7 1170.7,799.4 1171.1,799.6 1171.5,799.5 1171.9,799.7 1172.3,800.2 1172.7,800.9 1173.1,801.4 1173.5,799.5 1173.9,799.8 1174.3,801.4 1174.7,800.9 1175.1,800.3 1175.5,798.2 1175.9,799.3 1176.3,800.2 1176.7,799.6 1177.1,801.6 1177.5,800.0 1177.9,800.2 1178.3,799.0 1178.7,799.0 1179.1,799.3 1179.5,799.3 1179.9,799.5 1180.3,800.0 1180.7,799.8 1181.1,800.3 1181.5,798.3 1181.9,799.5 1182.3,799.5 1182.7,800.4 1183.1,798.9 1183.5,799.2 1183.9,798.1 1184.3,799.0 1184.7,798.8 1185.1,797.9 1185.5,797.9 1185.9,798.0 1186.3,798.4 1186.7,796.8 1187.1,798.3 1187.5,797.2 1187.9,798.9 1188.3,798.4 1188.7,796.8 1189.1,796.5 1189.5,798.9 1189.9,797.4 1190.3,797.3 1190.7,796.4 1191.1,796.6 1191.5,797.3 1191.9,797.2 1192.3,796.0 1192.7,797.7 1193.1,796.9 1193.5,795.9 1193.9,797.5 1194.3,796.6 1194.7,797.4 1195.1,796.4 1195.5,797.2 1195.9,795.7 1196.3,797.4 1196.7,796.1 1197.1,797.7 1197.5,795.8 1197.9,798.1 1198.3,799.1 1198.7,799.3 1199.1,800.3 1199.5,798.9 1199.9,801.4 1200.3,801.8 1200.7,800.2 1201.1,801.2 1201.5,802.2 1201.9,803.7 1202.3,805.0 1202.7,804.5 1203.1,808.0 1203.5,809.0 1203.9,810.1 1204.3,813.1 1204.7,814.6 1205.1,818.0 1205.5,820.9 1205.9,824.8 1206.3,831.9 1206.7,839.0 1207.1,846.6 1207.5,856.3 1207.9,859.6 1208.3,853.4 1208.7,843.3 1209.1,834.3 1209.5,823.5 1209.9,812.7 1210.3,802.4 1210.7,792.2 1211.1,783.5 1211.5,775.5 1211.9,768.1 1212.3,761.3 1212.7,755.6 1213.1,750.2 1213.5,745.4 1213.9,740.4 1214.3,737.1 1214.7,736.1 1215.1,736.1 1215.5,736.9 1215.9,739.4 1216.3,740.6 1216.7,742.6 1217.1,745.6 1217.5,746.8 1217.9,751.7 1218.3,754.2 1218.7,757.9 1219.1,761.0 1219.5,764.4 1219.9,767.2 1220.3,769.9 1220.7,772.0 1221.1,774.7 1221.5,776.3 1221.9,776.8 1222.3,778.0 1222.7,778.1 1223.1,778.3 1223.5,780.3 1223.9,780.3 1224.3,781.3 1224.7,779.4 1225.1,783.3 1225.5,780.4 1225.9,781.7 1226.3,782.6 1226.7,780.9 1227.1,781.6 1227.5,780.5 1227.9,781.1 1228.3,780.7 1228.7,782.4 1229.1,782.6 1229.5,782.1 1229.9,783.4 1230.3,783.5 1230.7,782.4 1231.1,782.3 1231.5,782.2 1231.9,782.1 1232.3,783.5 1232.7,782.5 1233.1,782.0 1233.5,782.0 1233.9,782.5 1234.3,781.7 1234.7,782.1 1235.1,781.8 1235.5,782.8 1235.9,782.5 1236.3,780.3 1236.7,781.2 1237.1,781.8 1237.5,780.8 1237.9,781.7 1238.3,781.2 1238.7,781.3 1239.1,780.7 1239.5,780.9 1239.9,781.0 1240.3,779.3 1240.7,779.6 1241.1,779.4 1241.5,781.4 1241.9,780.2 1242.3,780.1 1242.7,779.8 1243.1,779.0 1243.5,778.7 1243.9,779.8 1244.3,778.6 1244.7,780.0 1245.1,778.7 1245.5,778.4 1245.9,778.0 1246.3,777.9 1246.7,777.8 1247.1,778.7 1247.5,779.2 1247.9,776.2 1248.3,777.1 1248.7,777.3 1249.1,775.8 1249.5,775.8 1249.9,775.8 1250.3,774.0 1250.7,776.3 1251.1,775.6 1251.5,775.4 1251.9,775.3 1252.3,775.3 1252.7,776.8 1253.1,774.9 1253.5,775.3 1253.9,774.1 1254.3,774.6 1254.7,773.9 1255.1,773.9 1255.5,773.2 1255.9,773.1 1256.3,774.0 1256.7,774.0 1257.1,773.7 1257.5,772.6 1257.9,773.3 1258.3,770.9 1258.7,773.5 1259.1,772.6 1259.5,772.8 1259.9,773.4 1260.3,772.0 1260.7,773.0 1261.1,771.8 1261.5,772.6 1261.9,771.7 1262.3,772.3 1262.7,773.1 1263.1,771.4 1263.5,771.4 1263.9,771.6 1264.3,772.1 1264.7,774.0 1265.1,771.4 1265.5,770.2 1265.9,771.3 1266.3,770.5 1266.7,771.3 1267.1,771.7 1267.5,770.9 1267.9,771.1 1268.3,770.1 1268.7,771.7 1269.1,770.9 1269.5,772.3 1269.9,772.2 1270.3,770.6 1270.7,770.9 1271.1,771.1 1271.5,771.6 1271.9,769.6 1272.3,770.8 1272.7,772.2 1273.1,770.6 1273.5,770.7 1273.9,770.5 1274.3,769.5 1274.7,771.1 1275.1,770.5 1275.5,770.4 1275.9,770.8 1276.3,770.8 1276.7,768.6 1277.1,770.5 1277.5,769.6 1277.9,770.2 1278.3,769.4 1278.7,769.2 1279.1,770.6 1279.5,769.8 1279.9,769.5 1280.3,769.4 1280.7,769.6 1281.1,769.4 1281.5,767.4 1281.9,768.5 1282.3,768.9 1282.7,769.5 1283.1,769.8 1283.5,767.8 1283.9,770.0 1284.3,768.3 1284.7,768.5 1285.1,767.5 1285.5,767.2 1285.9,768.7 1286.3,767.2 1286.7,767.2 1287.1,768.0 1287.5,768.3 1287.9,765.6 1288.3,766.6 1288.7,766.6 1289.1,768.0 1289.5,768.4 1289.9,766.4 1290.3,766.6 1290.7,767.0 1291.1,767.2 1291.5,765.9 1291.9,766.9 1292.3,765.6 1292.7,763.9 1293.1,764.9 1293.5,766.2 1293.9,766.6 1294.3,764.1 1294.7,764.4 1295.1,765.8 1295.5,763.0 1295.9,766.1 1296.3,766.4 1296.7,763.1 1297.1,766.0 1297.5,765.1 1297.9,766.3 1298.3,765.2 1298.7,764.7 1299.1,764.8 1299.5,765.3 1299.9,764.6 1300.3,764.3 1300.7,763.0 1301.1,764.4 1301.5,763.8 1301.9,765.1 1302.3,763.5 1302.7,763.3 1303.1,762.7 1303.5,763.6 1303.9,762.7 1304.3,762.2 1304.7,763.9 1305.1,764.0 1305.5,762.1 1305.9,761.5 1306.3,763.2 1306.7,761.5 1307.1,764.4 1307.5,762.0 1307.9,762.9 1308.3,761.0 1308.7,762.1 1309.1,763.0 1309.5,762.5 1309.9,761.7 1310.3,764.2 1310.7,762.8 1311.1,762.1 1311.5,761.8 1311.9,762.1 1312.3,763.5 1312.7,761.8 1313.1,762.5 1313.5,761.8 1313.9,763.5 1314.3,762.4 1314.7,763.2 1315.1,763.0 1315.5,762.0 1315.9,763.1 1316.3,763.2 1316.7,761.5 1317.1,763.0 1317.5,765.3 1317.9,762.1 1318.3,762.8 1318.7,761.2 1319.1,762.6 1319.5,761.7 1319.9,762.7 1320.3,762.0 1320.7,761.0 1321.1,762.8 1321.5,761.7 1321.9,761.0 1322.3,761.8 1322.7,760.8 1323.1,761.9 1323.5,761.4 1323.9,761.1 1324.3,761.8 1324.7,760.1 1325.1,761.9 1325.5,759.3 1325.9,762.2 1326.3,760.9 1326.7,760.4 1327.1,759.9 1327.5,760.9 1327.9,760.2 1328.3,760.1 1328.7,761.0 1329.1,759.7 1329.5,759.8 1329.9,760.2 1330.3,760.7 1330.7,759.7 1331.1,759.9 1331.5,759.8 1331.9,760.3 1332.3,760.9 1332.7,759.0 1333.1,759.7 1333.5,759.8 1333.9,760.3 1334.3,761.1 1334.7,759.9 1335.1,760.2 1335.5,761.0 1335.9,759.1 1336.3,759.5 1336.7,759.8 1337.1,760.2 1337.5,760.4 1337.9,759.8 1338.3,761.6 1338.7,759.6 1339.1,760.0 1339.5,761.0 1339.9,760.7 1340.3,759.9 1340.7,760.2 1341.1,760.4 1341.5,759.6 1341.9,760.0 1342.3,758.6 1342.7,759.3 1343.1,757.8 1343.5,758.2 1343.9,757.9 1344.3,759.6 1344.7,758.1 1345.1,758.5 1345.5,757.4 1345.9,757.8 1346.3,757.6 1346.7,757.0 1347.1,758.3 1347.5,756.1 1347.9,757.8 1348.3,759.3 1348.7,756.4 1349.1,757.0 1349.5,755.6 1349.9,756.7 1350.3,755.2 1350.7,757.0 1351.1,755.9 1351.5,754.7 1351.9,755.1 1352.3,754.7 1352.7,755.7 1353.1,756.5 1353.5,755.4 1353.9,754.6 1354.3,754.8 1354.7,755.5 1355.1,753.3 1355.5,755.7 1355.9,755.5 1356.3,753.1 1356.7,756.0 1357.1,753.6 1357.5,754.7 1357.9,755.8 1358.3,753.5 1358.7,753.3 1359.1,753.9 1359.5,753.9 1359.9,754.7 1360.3,754.3 1360.7,754.3 1361.1,754.3 1361.5,754.6 1361.9,754.0 1362.3,755.0 1362.7,754.7 1363.1,753.8 1363.5,756.1 1363.9,753.6 1364.3,755.2 1364.7,753.9 1365.1,754.8 1365.5,754.9 1365.9,755.2 1366.3,755.6 1366.7,753.7 1367.1,756.7 1367.5,754.7 1367.9,753.7 1368.3,753.2 1368.7,756.3 1369.1,755.7 1369.5,754.3 1369.9,755.0 1370.3,755.5 1370.7,754.5 1371.1,754.1 1371.5,754.4 1371.9,755.1 1372.3,754.5 1372.7,753.5 1373.1,755.1 1373.5,753.1 1373.9,753.9 1374.3,755.6 1374.7,754.7 1375.1,754.7 1375.5,754.6 1375.9,755.4 1376.3,754.5 1376.7,752.9 1377.1,754.6 1377.5,751.9 1377.9,752.7 1378.3,755.6 1378.7,755.1 1379.1,753.8 1379.5,754.1 1379.9,754.1 1380.3,754.8 1380.7,753.3 1381.1,753.1 1381.5,753.2 1381.9,753.8 1382.3,753.8 1382.7,753.1 1383.1,754.0 1383.5,752.4 1383.9,753.1 1384.3,752.5 1384.7,752.2 1385.1,754.0 1385.5,752.6 1385.9,752.0 1386.3,752.8 1386.7,751.9 1387.1,753.2 1387.5,753.3 1387.9,753.5 1388.3,751.7 1388.7,752.5 1389.1,754.1 1389.5,752.4 1389.9,753.6 1390.3,753.8 1390.7,751.4 1391.1,753.6 1391.5,753.2 1391.9,753.3 1392.3,753.9 1392.7,752.9 1393.1,752.6 1393.5,753.0 1393.9,752.2 1394.3,752.8 1394.7,750.7 1395.1,753.8 1395.5,751.9 1395.9,752.7 1396.3,752.5 1396.7,752.2 1397.1,752.2 1397.5,752.1 1397.9,750.7 1398.3,751.5 1398.7,752.9 1399.1,751.0 1399.5,751.0 1399.9,753.5 1400.3,752.8 1400.7,753.0 1401.1,751.7 1401.5,751.9 1401.9,752.3 1402.3,752.1 1402.7,751.5 1403.1,750.4 1403.5,750.9 1403.9,750.2 1404.3,752.7 1404.7,751.0 1405.1,751.1 1405.5,751.3 1405.9,751.0 1406.3,751.3 1406.7,750.3 1407.1,749.4 1407.5,751.9 1407.9,749.8 1408.3,749.9 1408.7,749.5 1409.1,749.5 1409.5,749.9 1409.9,750.4 1410.3,748.8 1410.7,749.8 1411.1,749.0 1411.5,750.5 1411.9,748.5 1412.3,749.5 1412.7,750.0 1413.1,748.4 1413.5,749.6 1413.9,749.7 1414.3,748.9 1414.7,749.5 1415.1,750.5 1415.5,749.9 1415.9,749.4 1416.3,749.6 1416.7,750.2 1417.1,750.9 1417.5,750.5 1417.9,750.5 1418.3,751.2 1418.7,748.7 1419.1,748.7 1419.5,748.1 1419.9,750.6 1420.3,748.0 1420.7,749.8 1421.1,750.5 1421.5,748.7 1421.9,749.3 1422.3,749.6 1422.7,750.5 1423.1,748.7 1423.5,750.2 1423.9,750.5 1424.3,750.1 1424.7,750.2 1425.1,751.2 1425.5,750.4 1425.9,750.3 1426.3,750.1 1426.7,751.0 1427.1,750.3 1427.5,751.1 1427.9,750.7 1428.3,751.6 1428.7,750.1 1429.1,750.9 1429.5,751.1 1429.9,751.2 1430.3,751.8 1430.7,751.2 1431.1,751.6 1431.5,752.5 1431.9,751.5 1432.3,749.9 1432.7,749.6 1433.1,751.2 1433.5,750.3 1433.9,750.7 1434.3,750.2 1434.7,751.3 1435.1,751.1 1435.5,749.1 1435.9,750.1 1436.3,749.5 1436.7,748.6 1437.1,750.0 1437.5,749.3 1437.9,749.7 1438.3,751.2 1438.7,750.2 1439.1,749.9 1439.5,748.6 1439.9,748.0 1440.3,749.9 1440.7,748.6 1441.1,748.8 1441.5,748.5 1441.9,748.8 1442.3,750.7 1442.7,748.5 1443.1,748.5 1443.5,748.9 1443.9,749.0 1444.3,747.8 1444.7,747.4 1445.1,748.3 1445.5,748.6 1445.9,748.2 1446.3,748.0 1446.7,748.1 1447.1,748.5 1447.5,748.7 1447.9,747.5 1448.3,748.3 1448.7,749.0 1449.1,748.6 1449.5,747.5 1449.9,748.3 1450.3,748.5 1450.7,749.1 1451.1,747.1 1451.5,748.9 1451.9,747.9 1452.3,748.4 1452.7,748.7 1453.1,747.4 1453.5,747.4 1453.9,747.9 1454.3,748.5 1454.7,747.5 1455.1,746.7 1455.5,747.3 1455.9,748.1 1456.3,748.7 1456.7,747.3 1457.1,747.4 1457.5,747.5 1457.9,747.5 1458.3,746.9 1458.7,747.3 1459.1,747.8 1459.5,747.6 1459.9,747.5 1460.3,746.7 1460.7,747.0 1461.1,746.9 1461.5,748.2 1461.9,748.5 1462.3,747.6 1462.7,748.6 1463.1,747.0 1463.5,747.0 1463.9,746.2 1464.3,747.4 1464.7,746.9 1465.1,747.3 1465.5,747.6 1465.9,747.1 1466.3,746.4 1466.7,747.3 1467.1,747.3 1467.5,747.4 1467.9,748.0 1468.3,747.4 1468.7,747.4 1469.1,749.0 1469.5,748.6 1469.9,747.7 1470.3,747.1 1470.7,747.6 1471.1,748.3 1471.5,748.7 1471.9,750.0 1472.3,748.0 1472.7,748.4 1473.1,748.0 1473.5,748.4 1473.9,748.1 1474.3,747.6 1474.7,749.4 1475.1,748.7 1475.5,749.7 1475.9,748.3 1476.3,749.0 1476.7,749.3 1477.1,747.4 1477.5,747.8 1477.9,749.5 1478.3,749.0 1478.7,747.5 1479.1,748.4 1479.5,748.1 1479.9,748.5 1480.3,750.1 1480.7,748.4 1481.1,750.3 1481.5,748.5 1481.9,748.0 1482.3,749.7 1482.7,749.0 1483.1,749.2 1483.5,749.5 1483.9,748.7 1484.3,748.7 1484.7,746.2 1485.1,746.7 1485.5,747.6 1485.9,747.3 1486.3,747.5 1486.7,746.5 1487.1,747.6 1487.5,748.3 1487.9,747.1 1488.3,747.2 1488.7,747.0 1489.1,747.3 1489.5,746.7 1489.9,746.2 1490.3,746.8 1490.7,746.8 1491.1,745.5 1491.5,747.0 1491.9,746.9 1492.3,747.1 1492.7,746.6 1493.1,747.5 1493.5,747.6 1493.9,746.6 1494.3,747.5 1494.7,747.9 1495.1,747.9 1495.5,746.6 1495.9,746.5 1496.3,747.3 1496.7,746.5 1497.1,749.3 1497.5,746.6 1497.9,746.6 1498.3,747.7 1498.7,746.8 1499.1,745.3 1499.5,747.0 1499.9,746.3 1500.3,746.7 1500.7,745.8 1501.1,746.3 1501.5,746.9 1501.9,747.0 1502.3,746.2 1502.7,746.7 1503.1,746.8 1503.5,747.8 1503.9,747.9 1504.3,747.3 1504.7,749.2 1505.1,748.6 1505.5,749.8 1505.9,749.3 1506.3,750.7 1506.7,750.9 1507.1,751.6 1507.5,752.8 1507.9,753.8 1508.3,754.9 1508.7,756.3 1509.1,757.0 1509.5,759.5 1509.9,760.0 1510.3,762.0 1510.7,765.5 1511.1,768.4 1511.5,772.6 1511.9,776.2 1512.3,782.2 1512.7,789.5 1513.1,798.5 1513.5,809.0 1513.9,819.6 1514.3,820.0 1514.7,811.3 1515.1,800.3 1515.5,789.7 1515.9,777.9 1516.3,766.3 1516.7,754.8 1517.1,743.9 1517.5,734.0 1517.9,724.9 1518.3,716.8 1518.7,709.2 1519.1,702.1 1519.5,696.1 1519.9,690.2 1520.3,686.0 1520.7,682.1 1521.1,680.6 1521.5,682.2 1521.9,682.6 1522.3,685.3 1522.7,688.0 1523.1,690.5 1523.5,693.0 1523.9,698.9 1524.3,701.5 1524.7,706.5 1525.1,710.4 1525.5,712.9 1525.9,717.2 1526.3,721.1 1526.7,724.8 1527.1,726.6 1527.5,729.2 1527.9,730.5 1528.3,732.9 1528.7,732.0 1529.1,735.7 1529.5,735.9 1529.9,736.9 1530.3,735.8 1530.7,737.9 1531.1,739.8 1531.5,741.7 1531.9,739.8 1532.3,740.3 1532.7,741.6 1533.1,741.8 1533.5,741.4 1533.9,742.0 1534.3,742.0 1534.7,743.0 1535.1,743.3 1535.5,744.3 1535.9,743.7 1536.3,743.7 1536.7,743.4 1537.1,744.1 1537.5,742.7 1537.9,745.3 1538.3,743.9 1538.7,744.8 1539.1,743.1 1539.5,744.5 1539.9,744.0 1540.3,743.5 1540.7,743.1 1541.1,742.9 1541.5,745.0 1541.9,744.5 1542.3,743.6 1542.7,743.6 1543.1,742.8 1543.5,741.9 1543.9,741.9 1544.3,742.8 1544.7,743.2 1545.1,742.3 1545.5,743.9 1545.9,743.6 1546.3,743.4 1546.7,741.8 1547.1,743.1 1547.5,743.2 1547.9,742.3 1548.3,741.5 1548.7,744.9 1549.1,743.9 1549.5,743.1 1549.9,744.7 1550.3,744.4 1550.7,743.9 1551.1,743.8 1551.5,744.3 1551.9,744.9 1552.3,743.8 1552.7,743.6 1553.1,744.3 1553.5,741.6 1553.9,743.9 1554.3,743.5 1554.7,743.8 1555.1,743.7 1555.5,744.0 1555.9,743.8 1556.3,743.7 1556.7,743.5 1557.1,743.9 1557.5,743.1 1557.9,744.2 1558.3,741.9 1558.7,743.3 1559.1,743.4 1559.5,741.9 1559.9,742.5 1560.3,743.8 1560.7,742.5 1561.1,741.8 1561.5,740.0 1561.9,742.6 1562.3,742.3 1562.7,742.6 1563.1,743.6 1563.5,741.9 1563.9,741.9 1564.3,741.2 1564.7,741.6 1565.1,741.5 1565.5,742.1 1565.9,741.9 1566.3,740.8 1566.7,741.0 1567.1,742.5 1567.5,740.6 1567.9,741.9 1568.3,742.6 1568.7,741.9 1569.1,741.6 1569.5,742.5 1569.9,741.7 1570.3,741.4 1570.7,741.3 1571.1,742.4 1571.5,742.1 1571.9,742.8 1572.3,741.3 1572.7,741.4 1573.1,741.3 1573.5,742.0 1573.9,741.2 1574.3,742.6 1574.7,742.1 1575.1,741.1 1575.5,739.6 1575.9,740.5 1576.3,743.2 1576.7,742.0 1577.1,742.2 1577.5,741.8 1577.9,742.5 1578.3,740.7 1578.7,740.6 1579.1,741.0 1579.5,742.4 1579.9,742.9 1580.3,742.8 1580.7,742.3 1581.1,741.4 1581.5,743.2 1581.9,742.4 1582.3,742.6 1582.7,742.6 1583.1,742.4 1583.5,742.2 1583.9,742.4 1584.3,741.9 1584.7,743.2 1585.1,742.9 1585.5,743.9 1585.9,741.7 1586.3,744.2 1586.7,743.2 1587.1,743.2 1587.5,742.7 1587.9,742.7 1588.3,742.1 1588.7,744.0 1589.1,743.1 1589.5,743.8 1589.9,743.8 1590.3,742.7 1590.7,742.8 1591.1,742.6 1591.5,743.6 1591.9,742.8 1592.3,742.7 1592.7,743.1 1593.1,742.3 1593.5,743.9 1593.9,741.4 1594.3,743.1 1594.7,743.1 1595.1,741.0 1595.5,742.5 1595.9,742.0 1596.3,742.4 1596.7,740.7 1597.1,741.8 1597.5,740.8 1597.9,741.3 1598.3,742.7 1598.7,741.5 1599.1,739.8 1599.5,740.5 1599.9,740.7 1600.3,742.4 1600.7,741.1 1601.1,740.5 1601.5,742.6 1601.9,742.0 1602.3,742.1 1602.7,741.2 1603.1,743.1 1603.5,741.9 1603.9,740.4 1604.3,741.1 1604.7,741.4 1605.1,742.0 1605.5,742.8 1605.9,741.7 1606.3,741.8 1606.7,744.1 1607.1,742.5 1607.5,742.1 1607.9,742.6 1608.3,741.6 1608.7,743.1 1609.1,743.4 1609.5,742.2 1609.9,743.5 1610.3,742.5 1610.7,743.0 1611.1,742.2 1611.5,742.2 1611.9,741.6 1612.3,743.0 1612.7,742.6 1613.1,742.6 1613.5,741.9 1613.9,741.9 1614.3,742.3 1614.7,743.2 1615.1,743.0 1615.5,742.2 1615.9,743.0 1616.3,744.2 1616.7,742.9 1617.1,744.4 1617.5,743.1 1617.9,743.8 1618.3,742.4 1618.7,743.7 1619.1,741.8 1619.5,743.0 1619.9,742.5 1620.3,741.2 1620.7,741.7 1621.1,743.7 1621.5,743.1 1621.9,743.8 1622.3,742.9 1622.7,740.4 1623.1,742.9 1623.5,742.2 1623.9,742.3 1624.3,742.3 1624.7,742.1 1625.1,741.9 1625.5,743.7 1625.9,743.1 1626.3,742.2 1626.7,742.4 1627.1,743.6 1627.5,743.1 1627.9,743.0 1628.3,741.9 1628.7,742.5 1629.1,742.0 1629.5,741.4 1629.9,743.7 1630.3,742.7 1630.7,742.7 1631.1,742.2 1631.5,743.6 1631.9,744.7 1632.3,743.4 1632.7,743.7 1633.1,741.9 1633.5,743.0 1633.9,743.0 1634.3,744.0 1634.7,742.7 1635.1,741.9 1635.5,742.6 1635.9,742.2 1636.3,743.6 1636.7,743.0 1637.1,742.6 1637.5,742.5 1637.9,742.9 1638.3,741.8 1638.7,741.5 1639.1,740.7 1639.5,743.1 1639.9,742.5 1640.3,742.7 1640.7,742.2 1641.1,743.5 1641.5,741.4 1641.9,743.2 1642.3,741.6 1642.7,742.0 1643.1,741.4 1643.5,742.5 1643.9,742.3 1644.3,742.9 1644.7,742.2 1645.1,741.6 1645.5,743.2 1645.9,743.8 1646.3,743.5 1646.7,742.9 1647.1,743.3 1647.5,741.7 1647.9,742.9 1648.3,744.1 1648.7,743.6 1649.1,742.6 1649.5,744.0 1649.9,743.3 1650.3,744.0 1650.7,742.3 1651.1,743.0 1651.5,743.7 1651.9,743.8 1652.3,744.0 1652.7,743.5 1653.1,743.4 1653.5,743.9 1653.9,744.3 1654.3,742.4 1654.7,743.3 1655.1,743.4 1655.5,743.7 1655.9,744.4 1656.3,742.6 1656.7,744.1 1657.1,742.3 1657.5,743.1 1657.9,743.3 1658.3,743.5 1658.7,743.3 1659.1,743.4 1659.5,743.6 1659.9,743.7 1660.3,742.5 1660.7,742.9 1661.1,743.8 1661.5,744.6 1661.9,745.0 1662.3,746.5 1662.7,744.3 1663.1,743.6 1663.5,744.4 1663.9,744.7 1664.3,744.3 1664.7,743.2 1665.1,743.9 1665.5,743.9 1665.9,742.7 1666.3,742.7 1666.7,744.5 1667.1,741.7 1667.5,743.4 1667.9,742.9 1668.3,744.1 1668.7,743.3 1669.1,742.0 1669.5,743.6 1669.9,742.0 1670.3,743.9 1670.7,743.5 1671.1,742.0 1671.5,742.6 1671.9,742.1 1672.3,741.2 1672.7,742.7 1673.1,742.1 1673.5,742.5 1673.9,742.6 1674.3,742.9 1674.7,742.6 1675.1,741.7 1675.5,741.9 1675.9,742.1 1676.3,741.7 1676.7,741.7 1677.1,743.4 1677.5,742.3 1677.9,743.5 1678.3,741.4 1678.7,742.0 1679.1,741.7 1679.5,741.7 1679.9,741.8 1680.3,741.9 1680.7,741.6 1681.1,743.4 1681.5,742.5 1681.9,741.3 1682.3,741.4 1682.7,742.4 1683.1,742.2 1683.5,741.3 1683.9,742.4 1684.3,740.6 1684.7,741.3 1685.1,743.0 1685.5,739.6 1685.9,741.5 1686.3,742.4 1686.7,741.5 1687.1,741.0 1687.5,741.0 1687.9,740.0 1688.3,740.7 1688.7,741.8 1689.1,741.4 1689.5,741.9 1689.9,741.8 1690.3,742.2 1690.7,740.7 1691.1,741.9 1691.5,741.9 1691.9,742.0 1692.3,741.7 1692.7,740.7 1693.1,743.0 1693.5,743.3 1693.9,744.6 1694.3,743.3 1694.7,744.1 1695.1,743.4 1695.5,742.7 1695.9,743.4 1696.3,742.1 1696.7,743.3 1697.1,743.0 1697.5,742.3 1697.9,744.1 1698.3,744.0 1698.7,743.4 1699.1,743.7 1699.5,744.3 1699.9,742.9 1700.3,741.9 1700.7,742.1 1701.1,743.4 1701.5,743.0 1701.9,741.5 1702.3,743.7 1702.7,742.8 1703.1,743.8 1703.5,743.4 1703.9,742.1 1704.3,742.5 1704.7,741.7 1705.1,741.6 1705.5,742.0 1705.9,742.5 1706.3,743.2 1706.7,741.3 1707.1,742.5 1707.5,741.9 1707.9,741.7 1708.3,742.7 1708.7,741.5 1709.1,742.8 1709.5,741.4 1709.9,741.0 1710.3,742.3 1710.7,740.5 1711.1,740.7 1711.5,741.6 1711.9,741.7 1712.3,741.6 1712.7,740.2 1713.1,740.8 1713.5,742.3 1713.9,742.4 1714.3,741.2 1714.7,742.3 1715.1,742.3 1715.5,743.0 1715.9,741.6 1716.3,743.4 1716.7,742.0 1717.1,743.4 1717.5,743.0 1717.9,741.5 1718.3,742.0 1718.7,742.4 1719.1,743.0 1719.5,741.0 1719.9,741.6 1720.3,742.5 1720.7,742.3 1721.1,741.0 1721.5,741.0 1721.9,742.0 1722.3,740.8 1722.7,741.7 1723.1,742.2 1723.5,741.5 1723.9,739.3 1724.3,742.3 1724.7,742.3 1725.1,742.5 1725.5,742.0 1725.9,740.0 1726.3,742.5 1726.7,741.7 1727.1,742.2 1727.5,741.4 1727.9,741.4 1728.3,741.4 1728.7,743.0 1729.1,742.0 1729.5,741.7 1729.9,741.0 1730.3,742.5 1730.7,742.2 1731.1,742.4 1731.5,743.2 1731.9,743.1 1732.3,742.6 1732.7,742.9 1733.1,742.9 1733.5,743.5 1733.9,743.5 1734.3,743.2 1734.7,742.4 1735.1,743.8 1735.5,743.9 1735.9,742.4 1736.3,743.6 1736.7,743.0 1737.1,741.6 1737.5,743.3 1737.9,744.2 1738.3,742.9 1738.7,742.9 1739.1,744.3 1739.5,742.7 1739.9,742.9 1740.3,743.4 1740.7,744.2 1741.1,744.3 1741.5,743.4 1741.9,743.6 1742.3,743.9 1742.7,743.6 1743.1,743.2 1743.5,743.0 1743.9,744.4 1744.3,743.7 1744.7,746.1 1745.1,744.2 1745.5,743.0 1745.9,743.6 1746.3,743.7 1746.7,743.7 1747.1,743.6 1747.5,743.5 1747.9,742.9 1748.3,743.4 1748.7,744.5 1749.1,742.4 1749.5,742.3 1749.9,743.1 1750.3,743.5 1750.7,743.0 1751.1,743.3 1751.5,742.3 1751.9,742.1 1752.3,742.8 1752.7,742.8 1753.1,743.6 1753.5,743.5 1753.9,740.8 1754.3,742.9 1754.7,741.8 1755.1,740.7 1755.5,742.7 1755.9,742.3 1756.3,742.1 1756.7,741.4 1757.1,741.7 1757.5,742.3 1757.9,741.3 1758.3,742.4 1758.7,742.6 1759.1,742.4 1759.5,742.8 1759.9,742.5 1760.3,741.6 1760.7,741.7 1761.1,742.6 1761.5,743.3 1761.9,742.6 1762.3,742.1 1762.7,742.6 1763.1,741.1 1763.5,741.7 1763.9,742.2 1764.3,742.4 1764.7,742.2 1765.1,742.2 1765.5,741.5 1765.9,742.0 1766.3,742.6 1766.7,741.0 1767.1,741.4 1767.5,742.1 1767.9,743.5 1768.3,742.8 1768.7,743.5 1769.1,743.3 1769.5,741.8 1769.9,742.0 1770.3,741.0 1770.7,742.8 1771.1,742.4 1771.5,742.2 1771.9,742.2 1772.3,741.9 1772.7,741.6 1773.1,741.6 1773.5,742.3 1773.9,740.6 1774.3,740.3 1774.7,741.1 1775.1,742.0 1775.5,741.2 1775.9,740.9 1776.3,741.7 1776.7,741.2 1777.1,739.6 1777.5,740.4 1777.9,739.6 1778.3,741.1 1778.7,741.0 1779.1,741.8 1779.5,743.2 1779.9,741.1 1780.3,741.7 1780.7,741.5 1781.1,739.6 1781.5,741.3 1781.9,741.4 1782.3,742.3 1782.7,741.5 1783.1,741.1 1783.5,742.7 1783.9,742.2 1784.3,741.6 1784.7,741.7 1785.1,742.1 1785.5,743.0 1785.9,743.5 1786.3,741.4 1786.7,743.4 1787.1,742.5 1787.5,742.8 1787.9,743.3 1788.3,741.8 1788.7,743.3 1789.1,741.7 1789.5,742.4 1789.9,742.1 1790.3,744.2 1790.7,744.3 1791.1,743.6 1791.5,743.5 1791.9,742.7 1792.3,744.6 1792.7,744.4 1793.1,744.0 1793.5,743.3 1793.9,743.1 1794.3,743.4 1794.7,744.6 1795.1,742.8 1795.5,743.6 1795.9,744.9 1796.3,744.3 1796.7,745.0 1797.1,743.9 1797.5,743.9 1797.9,744.6 1798.3,744.0 1798.7,743.7 1799.1,743.0 1799.5,742.2 1799.9,744.5 1800.3,742.9 1800.7,742.6 1801.1,743.8 1801.5,742.4 1801.9,742.0 1802.3,742.5 1802.7,742.9 1803.1,743.1 1803.5,743.2 1803.9,743.5 1804.3,742.6 1804.7,743.0 1805.1,742.5 1805.5,742.1 1805.9,742.8 1806.3,742.7 1806.7,743.8 1807.1,742.7 1807.5,741.6 1807.9,742.6 1808.3,741.8 1808.7,743.1 1809.1,740.4 1809.5,741.1 1809.9,741.0 1810.3,741.5 1810.7,741.1 1811.1,739.9 1811.5,739.5 1811.9,741.1 1812.3,742.0 1812.7,741.9 1813.1,740.3 1813.5,740.9 1813.9,739.9 1814.3,739.5 1814.7,741.7 1815.1,741.5 1815.5,741.0 1815.9,741.3 1816.3,742.6 1816.7,742.6 1817.1,742.5 1817.5,743.5 1817.9,743.8 1818.3,744.1 1818.7,744.5 1819.1,746.5 1819.5,746.5 1819.9,747.3 1820.3,750.8 1820.7,752.0 1821.1,753.3 1821.5,754.7 1821.9,756.8 1822.3,758.1 1822.7,761.5 1823.1,764.6 1823.5,768.0 1823.9,772.6 1824.3,778.6 1824.7,787.3 1825.1,795.4 1825.5,807.3 1825.9,816.2 1826.3,813.6 1826.7,804.0 1827.1,793.6 1827.5,782.6 1827.9,770.9 1828.3,759.0 1828.7,747.9 1829.1,737.4 1829.5,727.5 1829.9,719.2 1830.3,710.7 1830.7,703.5 1831.1,696.9 1831.5,691.6 1831.9,685.6 1832.3,680.9 1832.7,678.1 1833.1,678.1 1833.5,679.1 1833.9,680.9 1834.3,683.1 1834.7,685.4 1835.1,687.7 1835.5,691.3 1835.9,695.9 1836.3,700.6 1836.7,704.1 1837.1,709.2 1837.5,711.0 1837.9,716.0 1838.3,718.1 1838.7,722.1 1839.1,723.7 1839.5,725.7 1839.9,727.8 1840.3,730.9 1840.7,730.8 1841.1,733.0 1841.5,733.8 1841.9,734.7 1842.3,735.4 1842.7,736.3 1843.1,735.5 1843.5,737.0 1843.9,737.7 1844.3,737.4 1844.7,738.5 1845.1,737.8 1845.5,739.4 1845.9,738.5 1846.3,739.0 1846.7,740.0 1847.1,740.3 1847.5,739.2 1847.9,739.2 1848.3,740.6 1848.7,737.7 1849.1,741.1 1849.5,741.1 1849.9,739.4 1850.3,741.2 1850.7,740.6 1851.1,740.7 1851.5,738.6 1851.9,740.0 1852.3,740.3 1852.7,740.1 1853.1,740.2 1853.5,740.3 1853.9,738.3 1854.3,740.4 1854.7,740.1 1855.1,740.6 1855.5,740.3 1855.9,740.7 1856.3,740.9 1856.7,742.1 1857.1,740.0 1857.5,742.0 1857.9,740.4 1858.3,739.9 1858.7,739.4 1859.1,741.1 1859.5,739.1 1859.9,740.9 1860.3,740.4 1860.7,739.5 1861.1,739.3 1861.5,740.1 1861.9,739.7 1862.3,740.1 1862.7,739.3 1863.1,738.8 1863.5,739.5 1863.9,738.0 1864.3,739.5 1864.7,738.8 1865.1,737.8 1865.5,737.8 1865.9,738.3 1866.3,737.1 1866.7,739.5 1867.1,739.2 1867.5,737.6 1867.9,738.3 1868.3,739.8 1868.7,738.8 1869.1,737.7 1869.5,736.9 1869.9,737.3 1870.3,739.6 1870.7,739.0 1871.1,737.8 1871.5,739.5 1871.9,738.7 1872.3,738.6 1872.7,738.7 1873.1,738.9 1873.5,740.6 1873.9,738.6 1874.3,739.1 1874.7,740.5 1875.1,740.7 1875.5,738.8 1875.9,741.3 1876.3,740.6 1876.7,738.6 1877.1,741.2 1877.5,738.7 1877.9,740.4 1878.3,739.0 1878.7,738.6 1879.1,740.7 1879.5,740.5 1879.9,740.1 1880.3,740.4 1880.7,740.3 1881.1,740.2 1881.5,739.6 1881.9,741.0 1882.3,740.6 1882.7,740.5 1883.1,740.3 1883.5,740.6 1883.9,739.6 1884.3,740.6 1884.7,740.1 1885.1,741.9 1885.5,740.1 1885.9,740.5 1886.3,740.8 1886.7,741.4 1887.1,741.1 1887.5,740.6 1887.9,742.3 1888.3,740.4 1888.7,740.6 1889.1,742.4 1889.5,739.4 1889.9,740.8 1890.3,740.2 1890.7,738.7 1891.1,739.1 1891.5,740.1 1891.9,738.2 1892.3,739.1 1892.7,739.9 1893.1,738.9 1893.5,739.2 1893.9,738.4 1894.3,738.4 1894.7,738.4 1895.1,738.5 1895.5,739.3 1895.9,738.9 1896.3,740.4 1896.7,739.3 1897.1,739.1 1897.5,740.7 1897.9,738.8 1898.3,738.3 1898.7,739.1 1899.1,738.1 1899.5,739.4 1899.9,740.1 1900.3,739.5 1900.7,738.7 1901.1,739.0 1901.5,739.5 1901.9,740.1 1902.3,738.8 1902.7,738.9 1903.1,740.1 1903.5,739.5 1903.9,739.6 1904.3,739.8 1904.7,738.9 1905.1,739.5 1905.5,740.5 1905.9,739.6 1906.3,739.7 1906.7,740.2 1907.1,740.4 1907.5,742.2 1907.9,739.6 1908.3,740.5 1908.7,742.0 1909.1,740.5 1909.5,740.9 1909.9,739.5 1910.3,741.5 1910.7,741.5 1911.1,741.4 1911.5,740.7 1911.9,741.1 1912.3,740.8 1912.7,741.5 1913.1,740.9 1913.5,741.5 1913.9,739.8 1914.3,740.6 1914.7,738.6 1915.1,740.7 1915.5,741.4 1915.9,740.6 1916.3,742.6 1916.7,740.0 1917.1,740.5 1917.5,740.0 1917.9,740.3 1918.3,740.3 1918.7,739.5 1919.1,739.9 1919.5,742.3 1919.9,740.5 1920.3,741.4 1920.7,739.6 1921.1,740.5 1921.5,741.0 1921.9,740.5 1922.3,740.2 1922.7,740.4 1923.1,740.5 1923.5,741.2 1923.9,741.4 1924.3,739.4 1924.7,738.8 1925.1,740.3 1925.5,740.5 1925.9,741.0 1926.3,741.3 1926.7,740.0 1927.1,742.2 1927.5,740.8 1927.9,739.2 1928.3,741.4 1928.7,741.0 1929.1,741.0 1929.5,739.6 1929.9,740.7 1930.3,741.1 1930.7,740.9 1931.1,741.6 1931.5,742.1 1931.9,742.3 1932.3,742.1 1932.7,741.0 1933.1,742.5 1933.5,741.3 1933.9,741.8 1934.3,740.9 1934.7,739.9 1935.1,739.2 1935.5,741.0 1935.9,740.3 1936.3,740.8 1936.7,741.4 1937.1,739.4 1937.5,739.1 1937.9,740.7 1938.3,740.7 1938.7,740.1 1939.1,739.9 1939.5,739.0 1939.9,740.2 1940.3,739.7 1940.7,740.6 1941.1,741.0 1941.5,739.9 1941.9,740.7 1942.3,740.6 1942.7,741.0 1943.1,741.8 1943.5,741.2 1943.9,741.3 1944.3,741.4 1944.7,740.5 1945.1,740.9 1945.5,741.3 1945.9,742.0 1946.3,742.1 1946.7,742.9 1947.1,740.2 1947.5,741.1 1947.9,739.7 1948.3,740.6 1948.7,739.6 1949.1,741.7 1949.5,741.3 1949.9,739.7 1950.3,740.6 1950.7,740.8 1951.1,741.4 1951.5,740.4 1951.9,739.7 1952.3,739.3 1952.7,739.7 1953.1,739.2 1953.5,738.4 1953.9,737.7 1954.3,739.4 1954.7,737.8 1955.1,738.1 1955.5,738.8 1955.9,738.1" stroke="#2280C0" stroke-width="7.5" stroke-linejoin="round" stroke-linecap="round"/>
<path d="M232.7,746.0 233.1,736.8 233.5,740.4 233.9,737.4 234.3,736.2 234.7,736.8 235.1,733.9 235.5,737.2 235.9,736.3 236.3,743.7 236.7,738.7 237.1,738.0 237.5,738.4 237.9,738.0 238.3,737.6 238.7,739.0 239.1,740.8 239.5,739.8 239.9,742.0 240.3,740.3 240.7,740.8 241.1,743.6 241.5,742.0 241.9,740.3 242.3,741.0 242.7,742.3 243.1,744.8 243.5,741.1 243.9,741.2 244.3,743.3 244.7,740.1 245.1,741.1 245.5,743.1 245.9,742.6 246.3,741.8 246.7,742.7 247.1,736.7 247.5,743.2 247.9,739.8 248.3,738.5 248.7,741.7 249.1,742.3 249.5,740.3 249.9,739.1 250.3,740.9 250.7,740.6 251.1,743.0 251.5,741.8 251.9,740.7 252.3,742.1 252.7,739.8 253.1,738.4 253.5,740.9 253.9,740.8 254.3,739.3 254.7,738.2 255.1,739.9 255.5,735.2 255.9,740.5 256.3,740.2 256.7,736.5 257.1,739.4 257.5,737.6 257.9,740.6 258.3,735.8 258.7,737.8 259.1,740.6 259.5,741.4 259.9,735.8 260.3,738.7 260.7,740.2 261.1,738.7 261.5,742.5 261.9,737.9 262.3,740.6 262.7,738.3 263.1,742.6 263.5,740.3 263.9,739.8 264.3,737.7 264.7,743.6 265.1,742.1 265.5,742.2 265.9,743.0 266.3,741.8 266.7,740.2 267.1,740.0 267.5,740.1 267.9,743.8 268.3,739.0 268.7,740.5 269.1,741.0 269.5,741.9 269.9,742.4 270.3,739.3 270.7,738.4 271.1,741.2 271.5,743.2 271.9,742.3 272.3,741.3 272.7,740.3 273.1,741.3 273.5,740.2 273.9,742.0 274.3,739.2 274.7,740.7 275.1,740.2 275.5,741.3 275.9,740.7 276.3,744.6 276.7,742.8 277.1,742.8 277.5,736.8 277.9,739.7 278.3,739.2 278.7,741.2 279.1,736.4 279.5,742.2 279.9,742.0 280.3,737.9 280.7,738.4 281.1,738.7 281.5,740.0 281.9,741.0 282.3,743.2 282.7,739.3 283.1,740.8 283.5,739.7 283.9,742.3 284.3,740.4 284.7,741.4 285.1,737.1 285.5,738.5 285.9,737.4 286.3,741.2 286.7,739.7 287.1,738.0 287.5,737.8 287.9,739.3 288.3,737.3 288.7,736.9 289.1,739.3 289.5,742.7 289.9,738.1 290.3,737.6 290.7,736.6 291.1,736.3 291.5,739.5 291.9,740.1 292.3,738.8 292.7,739.4 293.1,739.1 293.5,739.2 293.9,736.5 294.3,738.4 294.7,739.4 295.1,738.0 295.5,738.6 295.9,738.2 296.3,739.1 296.7,741.2 297.1,739.1 297.5,739.6 297.9,741.3 298.3,741.1 298.7,742.9 299.1,736.4 299.5,741.4 299.9,739.1 300.3,740.1 300.7,741.2 301.1,741.6 301.5,741.4 301.9,739.8 302.3,742.2 302.7,738.9 303.1,739.0 303.5,740.5 303.9,738.1 304.3,742.7 304.7,740.7 305.1,742.6 305.5,738.8 305.9,738.2 306.3,739.1 306.7,740.1 307.1,737.9 307.5,739.5 307.9,738.9 308.3,741.7 308.7,737.9 309.1,740.8 309.5,738.0 309.9,737.5 310.3,738.0 310.7,737.2 311.1,739.5 311.5,741.0 311.9,739.6 312.3,740.4 312.7,742.1 313.1,739.8 313.5,739.7 313.9,738.9 314.3,736.6 314.7,740.6 315.1,736.4 315.5,740.5 315.9,739.3 316.3,741.2 316.7,739.2 317.1,737.9 317.5,739.8 317.9,738.2 318.3,738.8 318.7,739.2 319.1,738.8 319.5,738.7 319.9,737.5 320.3,738.5 320.7,735.2 321.1,738.4 321.5,736.6 321.9,740.4 322.3,740.6 322.7,735.0 323.1,738.5 323.5,738.0 323.9,736.5 324.3,739.3 324.7,737.8 325.1,735.8 325.5,738.6 325.9,739.1 326.3,739.9 326.7,738.0 327.1,741.6 327.5,742.3 327.9,739.7 328.3,741.2 328.7,743.1 329.1,743.5 329.5,748.5 329.9,747.8 330.3,747.8 330.7,750.2 331.1,753.4 331.5,758.8 331.9,758.2 332.3,761.6 332.7,765.7 333.1,769.3 333.5,777.3 333.9,782.9 334.3,793.3 334.7,803.0 335.1,815.8 335.5,818.7 335.9,812.7 336.3,800.2 336.7,789.3 337.1,776.6 337.5,764.0 337.9,752.2 338.3,740.5 338.7,729.0 339.1,718.5 339.5,708.9 339.9,699.6 340.3,691.8 340.7,685.0 341.1,678.3 341.5,672.8 341.9,668.6 342.3,666.2 342.7,666.3 343.1,668.9 343.5,672.6 343.9,673.3 344.3,676.5 344.7,679.6 345.1,685.5 345.5,686.3 345.9,694.4 346.3,700.5 346.7,701.8 347.1,709.3 347.5,711.8 347.9,713.7 348.3,718.1 348.7,717.8 349.1,721.4 349.5,727.2 349.9,724.3 350.3,730.4 350.7,728.4 351.1,731.3 351.5,730.5 351.9,727.3 352.3,730.8 352.7,732.8 353.1,731.1 353.5,731.4 353.9,734.9 354.3,733.7 354.7,732.4 355.1,734.6 355.5,737.7 355.9,735.9 356.3,738.8 356.7,740.2 357.1,738.2 357.5,736.7 357.9,736.8 358.3,739.4 358.7,741.4 359.1,740.7 359.5,741.6 359.9,740.2 360.3,741.7 360.7,740.5 361.1,740.9 361.5,739.3 361.9,738.8 362.3,740.6 362.7,739.4 363.1,739.5 363.5,742.1 363.9,740.5 364.3,745.3 364.7,741.6 365.1,738.5 365.5,740.5 365.9,739.4 366.3,737.2 366.7,739.8 367.1,736.2 367.5,731.9 367.9,738.0 368.3,735.3 368.7,738.5 369.1,734.6 369.5,733.4 369.9,737.9 370.3,733.2 370.7,735.3 371.1,737.3 371.5,735.0 371.9,734.7 372.3,735.0 372.7,736.3 373.1,733.6 373.5,736.1 373.9,736.2 374.3,739.3 374.7,734.9 375.1,734.0 375.5,736.9 375.9,735.1 376.3,736.4 376.7,736.3 377.1,738.1 377.5,735.1 377.9,736.1 378.3,732.0 378.7,734.8 379.1,739.0 379.5,735.3 379.9,735.3 380.3,734.4 380.7,737.5 381.1,736.9 381.5,734.6 381.9,737.9 382.3,737.3 382.7,738.2 383.1,735.9 383.5,740.1 383.9,737.9 384.3,737.2 384.7,736.6 385.1,737.3 385.5,739.3 385.9,737.5 386.3,740.0 386.7,739.3 387.1,740.7 387.5,739.9 387.9,738.6 388.3,735.6 388.7,739.5 389.1,740.4 389.5,739.4 389.9,740.2 390.3,738.6 390.7,738.8 391.1,737.9 391.5,741.9 391.9,739.9 392.3,738.8 392.7,737.4 393.1,739.5 393.5,742.2 393.9,740.5 394.3,738.5 394.7,742.1 395.1,742.0 395.5,741.2 395.9,740.8 396.3,741.3 396.7,740.1 397.1,740.4 397.5,737.5 397.9,741.2 398.3,738.9 398.7,741.8 399.1,734.7 399.5,739.1 399.9,739.4 400.3,737.0 400.7,738.2 401.1,738.5 401.5,738.1 401.9,736.1 402.3,736.6 402.7,738.5 403.1,738.9 403.5,736.8 403.9,736.8 404.3,737.0 404.7,738.4 405.1,734.8 405.5,734.4 405.9,736.9 406.3,734.8 406.7,735.7 407.1,736.8 407.5,737.5 407.9,734.9 408.3,738.1 408.7,733.8 409.1,737.7 409.5,734.1 409.9,734.6 410.3,737.9 410.7,736.1 411.1,735.5 411.5,736.1 411.9,737.7 412.3,736.8 412.7,736.9 413.1,738.7 413.5,735.7 413.9,736.2 414.3,736.2 414.7,739.1 415.1,738.8 415.5,739.4 415.9,737.2 416.3,737.1 416.7,738.9 417.1,736.8 417.5,739.0 417.9,738.9 418.3,736.6 418.7,737.7 419.1,737.7 419.5,741.0 419.9,742.5 420.3,738.0 420.7,738.3 421.1,734.5 421.5,738.8 421.9,738.5 422.3,736.8 422.7,740.0 423.1,736.0 423.5,738.3 423.9,738.9 424.3,736.6 424.7,740.1 425.1,740.4 425.5,736.2 425.9,736.0 426.3,739.3 426.7,738.1 427.1,736.0 427.5,737.3 427.9,737.5 428.3,737.2 428.7,738.7 429.1,737.7 429.5,739.8 429.9,739.0 430.3,737.6 430.7,738.1 431.1,738.4 431.5,737.2 431.9,733.8 432.3,737.3 432.7,736.0 433.1,738.6 433.5,736.1 433.9,736.9 434.3,736.7 434.7,739.1 435.1,736.7 435.5,736.2 435.9,737.4 436.3,736.3 436.7,737.6 437.1,737.6 437.5,738.3 437.9,741.3 438.3,737.6 438.7,738.6 439.1,738.4 439.5,740.0 439.9,737.0 440.3,737.9 440.7,739.1 441.1,740.2 441.5,739.2 441.9,738.4 442.3,737.8 442.7,740.0 443.1,741.5 443.5,739.5 443.9,739.2 444.3,739.5 444.7,737.0 445.1,737.9 445.5,737.9 445.9,738.7 446.3,738.0 446.7,735.9 447.1,739.7 447.5,740.6 447.9,737.2 448.3,738.3 448.7,738.0 449.1,738.9 449.5,735.0 449.9,740.3 450.3,736.7 450.7,739.7 451.1,737.7 451.5,737.0 451.9,737.5 452.3,739.3 452.7,736.4 453.1,737.3 453.5,737.1 453.9,735.1 454.3,740.3 454.7,739.1 455.1,738.2 455.5,740.2 455.9,736.7 456.3,738.2 456.7,741.4 457.1,740.1 457.5,734.7 457.9,732.9 458.3,736.9 458.7,740.5 459.1,737.9 459.5,738.4 459.9,739.9 460.3,737.4 460.7,739.3 461.1,740.3 461.5,739.8 461.9,739.7 462.3,738.1 462.7,740.0 463.1,738.4 463.5,741.3 463.9,743.4 464.3,737.8 464.7,735.3 465.1,738.1 465.5,739.4 465.9,740.4 466.3,740.4 466.7,737.0 467.1,736.9 467.5,740.2 467.9,736.1 468.3,739.6 468.7,737.2 469.1,738.7 469.5,738.5 469.9,738.5 470.3,738.4 470.7,735.3 471.1,737.4 471.5,736.8 471.9,737.2 472.3,738.7 472.7,736.1 473.1,735.3 473.5,735.2 473.9,735.9 474.3,737.7 474.7,734.9 475.1,738.3 475.5,736.7 475.9,735.8 476.3,733.8 476.7,736.5 477.1,737.1 477.5,732.9 477.9,737.9 478.3,738.6 478.7,736.3 479.1,736.5 479.5,739.7 479.9,737.6 480.3,734.0 480.7,735.5 481.1,735.2 481.5,735.2 481.9,731.5 482.3,736.8 482.7,734.5 483.1,736.0 483.5,735.5 483.9,737.3 484.3,735.5 484.7,734.7 485.1,737.1 485.5,738.8 485.9,736.0 486.3,739.0 486.7,737.3 487.1,736.1 487.5,739.8 487.9,735.9 488.3,739.2 488.7,736.8 489.1,738.5 489.5,735.8 489.9,736.6 490.3,739.9 490.7,738.5 491.1,738.4 491.5,737.7 491.9,739.3 492.3,736.2 492.7,736.7 493.1,738.5 493.5,737.4 493.9,737.7 494.3,738.8 494.7,738.7 495.1,738.6 495.5,741.9 495.9,740.8 496.3,741.2 496.7,739.1 497.1,738.3 497.5,736.7 497.9,738.6 498.3,735.6 498.7,738.2 499.1,740.4 499.5,741.9 499.9,740.7 500.3,737.6 500.7,739.9 501.1,737.7 501.5,740.4 501.9,738.8 502.3,740.4 502.7,743.3 503.1,740.5 503.5,742.9 503.9,739.2 504.3,738.3 504.7,741.2 505.1,741.9 505.5,738.0 505.9,739.1 506.3,736.5 506.7,738.7 507.1,740.5 507.5,738.9 507.9,738.1 508.3,736.7 508.7,739.7 509.1,740.5 509.5,740.1 509.9,739.5 510.3,736.9 510.7,742.0 511.1,738.9 511.5,738.6 511.9,740.1 512.3,735.0 512.7,738.5 513.1,738.3 513.5,739.0 513.9,740.6 514.3,739.0 514.7,734.9 515.1,737.3 515.5,738.1 515.9,737.9 516.3,735.4 516.7,734.6 517.1,738.3 517.5,737.9 517.9,737.2 518.3,734.2 518.7,740.2 519.1,732.2 519.5,736.4 519.9,740.6 520.3,736.8 520.7,737.4 521.1,735.0 521.5,739.3 521.9,734.8 522.3,737.5 522.7,737.3 523.1,735.2 523.5,738.5 523.9,734.6 524.3,735.9 524.7,737.0 525.1,736.3 525.5,737.7 525.9,738.5 526.3,736.4 526.7,735.9 527.1,735.9 527.5,736.0 527.9,738.0 528.3,736.1 528.7,737.1 529.1,736.1 529.5,734.7 529.9,737.5 530.3,734.2 530.7,735.8 531.1,738.2 531.5,733.7 531.9,735.4 532.3,732.7 532.7,734.4 533.1,732.6 533.5,734.5 533.9,734.1 534.3,735.1 534.7,737.5 535.1,735.3 535.5,735.9 535.9,734.6 536.3,734.2 536.7,733.2 537.1,731.6 537.5,734.8 537.9,737.4 538.3,735.5 538.7,733.8 539.1,737.6 539.5,734.2 539.9,733.9 540.3,733.0 540.7,733.6 541.1,734.9 541.5,738.8 541.9,735.2 542.3,733.9 542.7,734.8 543.1,735.6 543.5,733.1 543.9,736.4 544.3,737.5 544.7,736.9 545.1,737.5 545.5,734.4 545.9,733.7 546.3,738.9 546.7,738.7 547.1,734.3 547.5,737.3 547.9,737.1 548.3,738.1 548.7,737.6 549.1,736.5 549.5,737.8 549.9,737.9 550.3,737.7 550.7,734.7 551.1,732.9 551.5,736.8 551.9,735.5 552.3,738.9 552.7,739.8 553.1,739.2 553.5,738.2 553.9,739.0 554.3,741.0 554.7,737.9 555.1,740.7 555.5,740.4 555.9,739.7 556.3,741.8 556.7,738.1 557.1,740.9 557.5,737.7 557.9,737.9 558.3,737.4 558.7,739.9 559.1,737.5 559.5,739.1 559.9,737.1 560.3,740.8 560.7,742.0 561.1,739.2 561.5,741.6 561.9,739.7 562.3,742.4 562.7,738.8 563.1,736.0 563.5,741.2 563.9,738.4 564.3,736.8 564.7,737.5 565.1,735.8 565.5,738.2 565.9,736.7 566.3,741.0 566.7,739.5 567.1,735.5 567.5,735.7 567.9,737.2 568.3,734.7 568.7,737.7 569.1,737.7 569.5,736.3 569.9,736.5 570.3,738.1 570.7,739.5 571.1,739.5 571.5,736.9 571.9,738.1 572.3,735.3 572.7,737.1 573.1,734.7 573.5,737.5 573.9,734.1 574.3,734.5 574.7,736.1 575.1,737.1 575.5,733.7 575.9,735.3 576.3,736.5 576.7,736.7 577.1,734.9 577.5,736.6 577.9,736.0 578.3,738.9 578.7,737.5 579.1,734.3 579.5,732.8 579.9,736.7 580.3,738.6 580.7,736.8 581.1,738.0 581.5,735.6 581.9,734.1 582.3,737.6 582.7,736.5 583.1,737.4 583.5,733.9 583.9,736.5 584.3,735.0 584.7,737.4 585.1,735.0 585.5,734.9 585.9,734.9 586.3,738.1 586.7,735.9 587.1,734.6 587.5,734.1 587.9,734.1 588.3,738.3 588.7,732.8 589.1,734.4 589.5,737.0 589.9,737.9 590.3,735.7 590.7,737.3 591.1,737.3 591.5,737.7 591.9,736.1 592.3,738.9 592.7,736.5 593.1,738.8 593.5,734.4 593.9,738.0 594.3,734.3 594.7,733.9 595.1,737.3 595.5,735.1 595.9,737.3 596.3,734.8 596.7,739.3 597.1,736.6 597.5,734.7 597.9,736.9 598.3,738.1 598.7,735.3 599.1,737.5 599.5,740.1 599.9,738.1 600.3,736.5 600.7,735.6 601.1,737.5 601.5,734.0 601.9,731.4 602.3,735.4 602.7,734.7 603.1,739.6 603.5,736.9 603.9,735.0 604.3,734.8 604.7,737.7 605.1,735.5 605.5,736.0 605.9,737.0 606.3,737.4 606.7,737.5 607.1,737.7 607.5,740.0 607.9,740.9 608.3,735.6 608.7,743.2 609.1,739.5 609.5,741.9 609.9,739.1 610.3,741.5 610.7,741.9 611.1,742.3 611.5,744.2 611.9,744.4 612.3,742.5 612.7,744.9 613.1,747.4 613.5,748.7 613.9,748.7 614.3,750.5 614.7,752.5 615.1,753.1 615.5,755.0 615.9,761.0 616.3,761.4 616.7,765.3 617.1,768.4 617.5,775.9 617.9,784.1 618.3,791.5 618.7,802.0 619.1,813.6 619.5,818.8 619.9,810.6 620.3,798.1 620.7,787.9 621.1,775.1 621.5,762.3 621.9,750.1 622.3,738.0 622.7,726.9 623.1,716.9 623.5,707.4 623.9,698.3 624.3,691.6 624.7,684.1 625.1,677.8 625.5,671.8 625.9,668.3 626.3,666.9 626.7,667.0 627.1,669.2 627.5,669.2 627.9,673.1 628.3,675.9 628.7,679.4 629.1,684.0 629.5,685.3 629.9,697.2 630.3,696.2 630.7,701.9 631.1,706.4 631.5,710.1 631.9,712.5 632.3,710.3 632.7,715.5 633.1,720.3 633.5,719.2 633.9,720.4 634.3,719.5 634.7,726.6 635.1,726.3 635.5,724.6 635.9,726.4 636.3,727.0 636.7,725.7 637.1,727.6 637.5,728.9 637.9,729.8 638.3,731.4 638.7,729.6 639.1,729.0 639.5,730.7 639.9,729.2 640.3,728.4 640.7,732.7 641.1,730.3 641.5,731.5 641.9,732.6 642.3,729.9 642.7,733.2 643.1,733.1 643.5,732.5 643.9,733.6 644.3,731.9 644.7,729.7 645.1,733.2 645.5,732.3 645.9,735.6 646.3,734.8 646.7,733.6 647.1,734.8 647.5,737.3 647.9,737.1 648.3,736.0 648.7,736.3 649.1,735.3 649.5,735.8 649.9,737.2 650.3,736.1 650.7,737.0 651.1,734.7 651.5,733.9 651.9,734.0 652.3,736.2 652.7,739.3 653.1,739.2 653.5,735.6 653.9,734.7 654.3,738.7 654.7,738.2 655.1,735.2 655.5,739.3 655.9,737.9 656.3,739.8 656.7,738.2 657.1,739.1 657.5,738.1 657.9,735.9 658.3,737.1 658.7,736.3 659.1,738.8 659.5,735.6 659.9,734.6 660.3,738.2 660.7,738.8 661.1,739.2 661.5,738.4 661.9,733.7 662.3,734.9 662.7,734.9 663.1,735.6 663.5,731.7 663.9,735.1 664.3,735.3 664.7,733.0 665.1,734.5 665.5,736.1 665.9,733.9 666.3,735.4 666.7,735.1 667.1,733.9 667.5,733.6 667.9,732.2 668.3,734.7 668.7,731.7 669.1,731.1 669.5,733.4 669.9,730.8 670.3,732.7 670.7,733.7 671.1,732.0 671.5,732.0 671.9,733.3 672.3,733.0 672.7,729.2 673.1,729.6 673.5,734.2 673.9,732.6 674.3,728.6 674.7,730.0 675.1,732.5 675.5,731.0 675.9,733.7 676.3,733.3 676.7,734.2 677.1,731.7 677.5,735.0 677.9,737.6 678.3,733.2 678.7,737.1 679.1,736.8 679.5,736.5 679.9,735.6 680.3,733.9 680.7,734.7 681.1,737.6 681.5,738.2 681.9,738.8 682.3,738.5 682.7,738.5 683.1,736.3 683.5,735.1 683.9,737.5 684.3,738.1 684.7,737.4 685.1,734.7 685.5,736.5 685.9,734.9 686.3,737.6 686.7,735.6 687.1,737.1 687.5,737.9 687.9,737.6 688.3,739.7 688.7,735.4 689.1,733.6 689.5,738.9 689.9,739.6 690.3,739.6 690.7,737.7 691.1,738.1 691.5,737.3 691.9,734.9 692.3,736.2 692.7,738.0 693.1,736.2 693.5,740.4 693.9,734.6 694.3,736.5 694.7,739.1 695.1,736.3 695.5,735.4 695.9,735.1 696.3,736.2 696.7,740.0 697.1,738.2 697.5,738.4 697.9,736.7 698.3,739.0 698.7,737.8 699.1,736.0 699.5,736.8 699.9,737.9 700.3,739.6 700.7,737.5 701.1,738.4 701.5,740.9 701.9,736.1 702.3,735.3 702.7,739.1 703.1,738.1 703.5,737.2 703.9,737.8 704.3,736.7 704.7,738.1 705.1,736.6 705.5,738.5 705.9,735.1 706.3,735.7 706.7,737.2 707.1,736.2 707.5,738.2 707.9,736.9 708.3,736.0 708.7,737.3 709.1,736.0 709.5,734.3 709.9,735.0 710.3,735.6 710.7,736.1 711.1,737.1 711.5,738.4 711.9,737.8 712.3,739.8 712.7,738.9 713.1,736.3 713.5,739.3 713.9,738.4 714.3,735.5 714.7,736.6 715.1,737.7 715.5,736.1 715.9,737.1 716.3,735.8 716.7,736.1 717.1,734.1 717.5,735.1 717.9,733.6 718.3,735.1 718.7,730.9 719.1,734.2 719.5,735.6 719.9,734.4 720.3,733.3 720.7,734.2 721.1,731.8 721.5,731.9 721.9,732.8 722.3,733.2 722.7,735.2 723.1,732.1 723.5,735.5 723.9,731.2 724.3,732.7 724.7,734.1 725.1,736.2 725.5,733.3 725.9,730.8 726.3,735.3 726.7,734.6 727.1,732.9 727.5,733.0 727.9,733.6 728.3,735.0 728.7,736.0 729.1,732.4 729.5,738.9 729.9,735.0 730.3,734.4 730.7,736.3 731.1,735.3 731.5,739.2 731.9,737.1 732.3,734.7 732.7,734.7 733.1,734.5 733.5,734.8 733.9,736.6 734.3,734.4 734.7,738.3 735.1,735.4 735.5,735.4 735.9,737.2 736.3,732.3 736.7,734.1 737.1,736.8 737.5,735.8 737.9,735.8 738.3,736.6 738.7,734.9 739.1,735.7 739.5,733.7 739.9,732.9 740.3,738.3 740.7,734.6 741.1,735.0 741.5,738.7 741.9,738.1 742.3,735.4 742.7,735.4 743.1,736.1 743.5,734.6 743.9,737.1 744.3,736.3 744.7,736.2 745.1,737.1 745.5,736.9 745.9,738.7 746.3,737.9 746.7,732.3 747.1,736.5 747.5,732.9 747.9,732.1 748.3,735.5 748.7,732.9 749.1,733.3 749.5,735.5 749.9,732.3 750.3,731.7 750.7,733.5 751.1,734.9 751.5,733.5 751.9,729.8 752.3,731.2 752.7,732.0 753.1,735.4 753.5,733.6 753.9,733.4 754.3,734.0 754.7,731.4 755.1,732.8 755.5,732.9 755.9,730.4 756.3,732.1 756.7,733.2 757.1,730.5 757.5,733.8 757.9,733.8 758.3,734.3 758.7,731.3 759.1,732.8 759.5,735.1 759.9,734.0 760.3,731.3 760.7,733.0 761.1,735.0 761.5,732.4 761.9,733.1 762.3,736.7 762.7,732.2 763.1,731.9 763.5,730.3 763.9,730.8 764.3,734.3 764.7,731.4 765.1,729.5 765.5,729.9 765.9,731.3 766.3,732.5 766.7,729.9 767.1,732.2 767.5,730.1 767.9,731.4 768.3,731.6 768.7,731.6 769.1,729.8 769.5,730.1 769.9,731.2 770.3,728.1 770.7,730.5 771.1,731.0 771.5,731.9 771.9,730.0 772.3,729.8 772.7,730.4 773.1,728.9 773.5,729.9 773.9,731.0 774.3,730.9 774.7,728.8 775.1,730.1 775.5,727.2 775.9,732.3 776.3,730.1 776.7,731.5 777.1,729.4 777.5,731.2 777.9,732.1 778.3,733.0 778.7,729.1 779.1,732.8 779.5,731.0 779.9,729.9 780.3,732.0 780.7,730.5 781.1,730.4 781.5,729.6 781.9,731.1 782.3,730.7 782.7,730.2 783.1,728.8 783.5,729.4 783.9,730.9 784.3,732.3 784.7,730.0 785.1,732.4 785.5,730.0 785.9,728.1 786.3,731.0 786.7,728.3 787.1,730.6 787.5,731.8 787.9,729.4 788.3,729.8 788.7,734.2 789.1,730.5 789.5,730.6 789.9,731.5 790.3,730.1 790.7,730.2 791.1,731.1 791.5,726.6 791.9,733.2 792.3,729.1 792.7,729.3 793.1,732.2 793.5,731.5 793.9,729.6 794.3,732.3 794.7,730.2 795.1,731.1 795.5,730.0 795.9,731.3 796.3,733.6 796.7,733.3 797.1,733.8 797.5,734.9 797.9,733.4 798.3,732.5 798.7,733.2 799.1,736.5 799.5,733.8 799.9,734.3 800.3,733.5 800.7,734.1 801.1,734.3 801.5,733.4 801.9,733.0 802.3,731.8 802.7,731.6 803.1,733.5 803.5,733.9 803.9,734.0 804.3,732.3 804.7,730.6 805.1,732.9 805.5,732.7 805.9,728.9 806.3,732.6 806.7,732.1 807.1,733.8 807.5,728.9 807.9,728.5 808.3,731.9 808.7,727.5 809.1,729.2 809.5,728.5 809.9,728.6 810.3,727.1 810.7,729.9 811.1,732.0 811.5,731.1 811.9,731.2 812.3,729.9 812.7,733.0 813.1,731.5 813.5,732.5 813.9,728.2 814.3,731.5 814.7,729.0 815.1,731.7 815.5,731.5 815.9,729.3 816.3,731.6 816.7,733.4 817.1,732.3 817.5,732.5 817.9,730.1 818.3,730.4 818.7,729.7 819.1,731.8 819.5,733.6 819.9,732.2 820.3,731.4 820.7,729.4 821.1,732.0 821.5,730.7 821.9,727.7 822.3,727.8 822.7,730.0 823.1,728.9 823.5,733.0 823.9,730.0 824.3,728.0 824.7,728.7 825.1,731.9 825.5,727.4 825.9,730.1 826.3,729.3 826.7,730.9 827.1,729.1 827.5,727.3 827.9,728.7 828.3,727.8 828.7,729.2 829.1,727.3 829.5,730.6 829.9,727.0 830.3,727.8 830.7,725.9 831.1,727.2 831.5,726.9 831.9,727.1 832.3,728.3 832.7,725.9 833.1,725.3 833.5,728.6 833.9,726.2 834.3,725.6 834.7,728.7 835.1,728.0 835.5,722.3 835.9,726.1 836.3,728.1 836.7,728.2 837.1,725.9 837.5,729.5 837.9,725.5 838.3,726.5 838.7,727.1 839.1,727.0 839.5,728.4 839.9,728.7 840.3,727.0 840.7,729.4 841.1,725.9 841.5,726.8 841.9,730.1 842.3,727.4 842.7,729.1 843.1,726.6 843.5,726.9 843.9,727.2 844.3,727.7 844.7,726.9 845.1,727.6 845.5,728.7 845.9,729.7 846.3,727.9 846.7,728.8 847.1,729.2 847.5,725.9 847.9,725.0 848.3,730.3 848.7,729.7 849.1,727.5 849.5,727.9 849.9,725.5 850.3,724.6 850.7,727.3 851.1,724.1 851.5,727.9 851.9,725.0 852.3,726.3 852.7,728.9 853.1,728.5 853.5,724.6 853.9,726.5 854.3,722.7 854.7,723.2 855.1,724.5 855.5,725.9 855.9,722.3 856.3,724.0 856.7,722.9 857.1,720.4 857.5,722.1 857.9,724.6 858.3,721.7 858.7,722.5 859.1,722.9 859.5,720.1 859.9,723.3 860.3,723.6 860.7,723.7 861.1,723.1 861.5,720.1 861.9,719.8 862.3,719.5 862.7,719.2 863.1,719.4 863.5,722.4 863.9,723.3 864.3,719.7 864.7,722.2 865.1,718.7 865.5,720.3 865.9,719.2 866.3,718.1 866.7,721.0 867.1,721.1 867.5,720.2 867.9,720.0 868.3,719.2 868.7,720.6 869.1,719.8 869.5,721.1 869.9,718.6 870.3,720.9 870.7,721.3 871.1,722.4 871.5,722.0 871.9,720.4 872.3,718.7 872.7,716.6 873.1,719.6 873.5,721.8 873.9,722.1 874.3,714.8 874.7,717.7 875.1,718.3 875.5,717.0 875.9,719.0 876.3,718.6 876.7,717.6 877.1,718.4 877.5,715.7 877.9,716.8 878.3,716.9 878.7,720.0 879.1,715.7 879.5,718.2 879.9,719.9 880.3,718.5 880.7,720.0 881.1,717.5 881.5,719.4 881.9,720.2 882.3,722.4 882.7,719.7 883.1,720.8 883.5,718.3 883.9,718.3 884.3,720.6 884.7,718.7 885.1,719.9 885.5,718.4 885.9,720.5 886.3,720.7 886.7,714.9 887.1,719.1 887.5,716.4 887.9,716.1 888.3,714.8 888.7,715.8 889.1,712.4 889.5,712.8 889.9,712.5 890.3,714.0 890.7,714.8 891.1,714.3 891.5,713.5 891.9,711.7 892.3,709.6 892.7,713.2 893.1,712.6 893.5,712.9 893.9,714.6 894.3,711.7 894.7,711.6 895.1,707.9 895.5,712.6 895.9,711.4 896.3,710.0 896.7,711.7 897.1,709.0 897.5,709.5 897.9,713.4 898.3,711.0 898.7,710.9 899.1,710.3 899.5,709.9 899.9,708.9 900.3,712.3 900.7,708.2 901.1,709.5 901.5,707.8 901.9,707.7 902.3,704.3 902.7,705.3 903.1,711.2 903.5,711.4 903.9,708.8 904.3,710.2 904.7,712.3 905.1,711.2 905.5,716.9 905.9,714.5 906.3,716.8 906.7,716.1 907.1,724.1 907.5,724.8 907.9,729.8 908.3,730.7 908.7,736.7 909.1,743.5 909.5,752.5 909.9,763.2 910.3,775.3 910.7,784.3 911.1,780.4 911.5,770.0 911.9,758.4 912.3,745.8 912.7,732.6 913.1,719.5 913.5,706.5 913.9,695.6 914.3,686.5 914.7,677.3 915.1,669.7 915.5,662.6 915.9,655.3 916.3,650.3 916.7,643.9 917.1,639.6 917.5,636.0 917.9,635.7 918.3,636.6 918.7,638.1 919.1,640.0 919.5,639.7 919.9,646.4 920.3,646.9 920.7,649.3 921.1,653.7 921.5,659.0 921.9,660.6 922.3,664.6 922.7,667.7 923.1,672.3 923.5,673.0 923.9,677.2 924.3,678.9 924.7,679.7 925.1,683.5 925.5,682.8 925.9,682.0 926.3,685.5 926.7,686.0 927.1,686.4 927.5,687.4 927.9,691.5 928.3,688.3 928.7,689.0 929.1,688.1 929.5,691.0 929.9,688.8 930.3,687.6 930.7,686.9 931.1,689.8 931.5,690.1 931.9,686.0 932.3,687.3 932.7,689.5 933.1,690.0 933.5,685.8 933.9,687.2 934.3,689.1 934.7,686.6 935.1,686.5 935.5,686.1 935.9,684.6 936.3,686.6 936.7,686.8 937.1,683.6 937.5,685.9 937.9,687.3 938.3,685.5 938.7,686.5 939.1,683.7 939.5,686.7 939.9,682.8 940.3,687.0 940.7,682.8 941.1,682.1 941.5,681.5 941.9,682.1 942.3,681.7 942.7,681.1 943.1,681.5 943.5,682.9 943.9,683.1 944.3,680.8 944.7,683.3 945.1,679.3 945.5,679.1 945.9,678.8 946.3,681.6 946.7,677.8 947.1,677.9 947.5,682.3 947.9,683.0 948.3,682.2 948.7,677.3 949.1,679.7 949.5,680.9 949.9,679.5 950.3,676.4 950.7,678.4 951.1,675.9 951.5,676.4 951.9,681.9 952.3,679.1 952.7,675.2 953.1,674.8 953.5,677.8 953.9,675.6 954.3,677.2 954.7,674.7 955.1,675.0 955.5,675.3 955.9,672.6 956.3,670.5 956.7,671.2 957.1,671.4 957.5,671.6 957.9,671.2 958.3,670.4 958.7,670.7 959.1,667.5 959.5,670.6 959.9,670.8 960.3,667.2 960.7,666.1 961.1,667.0 961.5,665.1 961.9,663.5 962.3,662.0 962.7,660.2 963.1,658.6 963.5,660.9 963.9,661.0 964.3,656.4 964.7,657.3 965.1,657.0 965.5,655.2 965.9,653.9 966.3,653.8 966.7,650.5 967.1,653.0 967.5,652.0 967.9,655.4 968.3,652.7 968.7,649.8 969.1,649.7 969.5,651.9 969.9,651.0 970.3,647.9 970.7,646.6 971.1,643.5 971.5,644.6 971.9,644.0 972.3,642.2 972.7,645.5 973.1,638.5 973.5,640.5 973.9,640.5 974.3,639.5 974.7,640.7 975.1,634.5 975.5,634.6 975.9,635.0 976.3,634.1 976.7,632.2 977.1,630.6 977.5,632.8 977.9,628.2 978.3,628.0 978.7,630.5 979.1,630.0 979.5,627.6 979.9,623.7 980.3,622.7 980.7,621.7 981.1,620.3 981.5,620.6 981.9,622.5 982.3,619.8 982.7,617.2 983.1,616.2 983.5,614.6 983.9,617.7 984.3,611.2 984.7,614.2 985.1,610.3 985.5,610.0 985.9,608.3 986.3,611.5 986.7,608.7 987.1,612.5 987.5,605.1 987.9,604.0 988.3,605.8 988.7,604.7 989.1,602.2 989.5,598.2 989.9,603.0 990.3,600.4 990.7,599.0 991.1,596.2 991.5,597.1 991.9,593.9 992.3,593.7 992.7,592.1 993.1,593.3 993.5,589.1 993.9,588.0 994.3,589.1 994.7,586.2 995.1,584.4 995.5,582.6 995.9,583.1 996.3,578.9 996.7,579.3 997.1,580.3 997.5,575.9 997.9,572.3 998.3,569.9 998.7,570.5 999.1,566.4 999.5,564.0 999.9,563.7 1000.3,561.3 1000.7,562.9 1001.1,557.1 1001.5,560.5 1001.9,554.6 1002.3,554.3 1002.7,553.4 1003.1,550.8 1003.5,549.7 1003.9,544.9 1004.3,540.9 1004.7,542.5 1005.1,538.1 1005.5,538.0 1005.9,538.7 1006.3,534.8 1006.7,532.2 1007.1,529.3 1007.5,528.7 1007.9,526.9 1008.3,522.5 1008.7,523.7 1009.1,519.3 1009.5,519.5 1009.9,516.2 1010.3,516.6 1010.7,514.3 1011.1,510.7 1011.5,508.3 1011.9,507.1 1012.3,506.5 1012.7,503.7 1013.1,499.9 1013.5,497.8 1013.9,497.7 1014.3,489.8 1014.7,491.2 1015.1,486.3 1015.5,487.7 1015.9,482.0 1016.3,480.2 1016.7,476.0 1017.1,475.4 1017.5,474.1 1017.9,473.0 1018.3,465.4 1018.7,464.2 1019.1,468.9 1019.5,461.2 1019.9,456.9 1020.3,455.1 1020.7,447.0 1021.1,451.5 1021.5,446.2 1021.9,440.7 1022.3,442.3 1022.7,436.4 1023.1,432.8 1023.5,432.6 1023.9,429.4 1024.3,425.0 1024.7,422.7 1025.1,417.5 1025.5,414.3 1025.9,415.3 1026.3,412.9 1026.7,408.4 1027.1,405.2 1027.5,400.8 1027.9,398.2 1028.3,393.7 1028.7,395.2 1029.1,388.2 1029.5,386.8 1029.9,383.0 1030.3,377.5 1030.7,380.1 1031.1,373.2 1031.5,369.5 1031.9,367.9 1032.3,363.2 1032.7,361.8 1033.1,357.1 1033.5,356.7 1033.9,352.8 1034.3,347.4 1034.7,348.6 1035.1,344.2 1035.5,339.0 1035.9,338.6 1036.3,335.7 1036.7,335.2 1037.1,327.6 1037.5,327.6 1037.9,323.0 1038.3,321.3 1038.7,316.8 1039.1,314.2 1039.5,312.2 1039.9,306.4 1040.3,301.9 1040.7,302.5 1041.1,298.8 1041.5,296.7 1041.9,294.8 1042.3,290.4 1042.7,289.9 1043.1,284.9 1043.5,282.3 1043.9,280.7 1044.3,277.5 1044.7,273.6 1045.1,271.2 1045.5,267.0 1045.9,264.6 1046.3,263.2 1046.7,261.9 1047.1,257.2 1047.5,256.8 1047.9,256.2 1048.3,254.1 1048.7,248.1 1049.1,247.5 1049.5,244.4 1049.9,242.3 1050.3,240.0 1050.7,237.1 1051.1,235.3 1051.5,231.9 1051.9,228.8 1052.3,227.3 1052.7,225.3 1053.1,224.0 1053.5,220.3 1053.9,218.4 1054.3,216.9 1054.7,211.3 1055.1,209.8 1055.5,208.6 1055.9,205.7 1056.3,202.5 1056.7,202.9 1057.1,200.0 1057.5,197.6 1057.9,198.8 1058.3,195.0 1058.7,194.9 1059.1,193.6 1059.5,193.3 1059.9,192.8 1060.3,191.5 1060.7,191.2 1061.1,190.7 1061.5,189.9 1061.9,190.1 1062.3,189.4 1062.7,188.9 1063.1,188.6 1063.5,188.4 1063.9,188.5 1064.3,188.4 1064.7,189.3 1065.1,188.5 1065.5,189.5 1065.9,192.0 1066.3,193.9 1066.7,199.0 1067.1,202.3 1067.5,206.5 1067.9,209.4 1068.3,213.2 1068.7,215.9 1069.1,219.5 1069.5,222.1 1069.9,226.2 1070.3,229.2 1070.7,231.5 1071.1,234.5 1071.5,238.6 1071.9,245.1 1072.3,245.4 1072.7,253.8 1073.1,257.3 1073.5,264.7 1073.9,269.4 1074.3,273.7 1074.7,281.1 1075.1,284.0 1075.5,295.1 1075.9,303.0 1076.3,307.2 1076.7,320.2 1077.1,327.5 1077.5,337.3 1077.9,344.2 1078.3,357.3 1078.7,367.1 1079.1,376.1 1079.5,384.5 1079.9,397.6 1080.3,408.7 1080.7,417.7 1081.1,429.2 1081.5,437.2 1081.9,449.2 1082.3,460.4 1082.7,471.0 1083.1,486.7 1083.5,493.9 1083.9,503.6 1084.3,517.4 1084.7,525.8 1085.1,540.0 1085.5,552.6 1085.9,562.5 1086.3,575.0 1086.7,586.3 1087.1,600.6 1087.5,611.9 1087.9,628.8 1088.3,640.0 1088.7,651.7 1089.1,663.0 1089.5,682.5 1089.9,695.0 1090.3,707.6 1090.7,721.4 1091.1,735.8 1091.5,749.3 1091.9,768.1 1092.3,780.1 1092.7,792.1 1093.1,808.1 1093.5,819.2 1093.9,838.7 1094.3,852.5 1094.7,867.4 1095.1,880.7 1095.5,888.1 1095.9,902.0 1096.3,914.3 1096.7,924.9 1097.1,933.2 1097.5,945.6 1097.9,954.9 1098.3,965.9 1098.7,972.7 1099.1,981.2 1099.5,989.3 1099.9,997.8 1100.3,1005.2 1100.7,1013.8 1101.1,1022.8 1101.5,1030.1 1101.9,1038.7 1102.3,1045.3 1102.7,1051.3 1103.1,1054.9 1103.5,1064.2 1103.9,1071.4 1104.3,1073.3 1104.7,1079.6 1105.1,1085.6 1105.5,1091.1 1105.9,1097.9 1106.3,1102.2 1106.7,1109.7 1107.1,1112.2 1107.5,1119.1 1107.9,1123.4 1108.3,1127.6 1108.7,1135.6 1109.1,1138.7 1109.5,1144.2 1109.9,1147.4 1110.3,1153.4 1110.7,1157.7 1111.1,1161.0 1111.5,1163.0 1111.9,1170.8 1112.3,1174.7 1112.7,1178.1 1113.1,1182.2 1113.5,1186.0 1113.9,1189.8 1114.3,1192.2 1114.7,1196.1 1115.1,1199.0 1115.5,1200.5 1115.9,1202.1 1116.3,1205.3 1116.7,1205.6 1117.1,1206.1 1117.5,1206.8 1117.9,1206.7 1118.3,1207.9 1118.7,1208.8 1119.1,1209.7 1119.5,1209.1 1119.9,1209.6 1120.3,1210.3 1120.7,1209.9 1121.1,1209.6 1121.5,1209.5 1121.9,1208.5 1122.3,1207.9 1122.7,1207.6 1123.1,1206.9 1123.5,1204.9 1123.9,1205.4 1124.3,1201.8 1124.7,1200.8 1125.1,1201.9 1125.5,1196.7 1125.9,1195.8 1126.3,1192.2 1126.7,1191.0 1127.1,1188.6 1127.5,1187.2 1127.9,1186.7 1128.3,1186.3 1128.7,1183.4 1129.1,1182.6 1129.5,1177.7 1129.9,1178.9 1130.3,1175.7 1130.7,1175.1 1131.1,1170.5 1131.5,1168.9 1131.9,1169.7 1132.3,1166.6 1132.7,1164.0 1133.1,1160.8 1133.5,1159.9 1133.9,1159.0 1134.3,1157.6 1134.7,1153.6 1135.1,1152.0 1135.5,1151.4 1135.9,1146.9 1136.3,1148.4 1136.7,1144.8 1137.1,1142.6 1137.5,1136.7 1137.9,1136.0 1138.3,1134.9 1138.7,1133.5 1139.1,1130.5 1139.5,1130.8 1139.9,1128.2 1140.3,1125.3 1140.7,1120.1 1141.1,1123.7 1141.5,1118.6 1141.9,1117.7 1142.3,1113.3 1142.7,1112.1 1143.1,1110.9 1143.5,1107.7 1143.9,1106.5 1144.3,1102.1 1144.7,1103.3 1145.1,1094.2 1145.5,1093.9 1145.9,1093.9 1146.3,1089.3 1146.7,1086.3 1147.1,1081.4 1147.5,1083.8 1147.9,1075.8 1148.3,1077.3 1148.7,1074.0 1149.1,1072.5 1149.5,1070.8 1149.9,1064.5 1150.3,1061.6 1150.7,1059.8 1151.1,1054.9 1151.5,1056.6 1151.9,1052.0 1152.3,1050.4 1152.7,1045.7 1153.1,1045.2 1153.5,1041.6 1153.9,1040.2 1154.3,1036.0 1154.7,1037.3 1155.1,1032.1 1155.5,1026.5 1155.9,1029.6 1156.3,1025.7 1156.7,1022.4 1157.1,1025.8 1157.5,1019.2 1157.9,1014.7 1158.3,1013.7 1158.7,1013.1 1159.1,1009.8 1159.5,1010.1 1159.9,1007.5 1160.3,1002.2 1160.7,1001.4 1161.1,1000.2 1161.5,996.2 1161.9,994.0 1162.3,994.1 1162.7,991.3 1163.1,986.0 1163.5,985.4 1163.9,983.6 1164.3,982.1 1164.7,979.1 1165.1,980.6 1165.5,974.7 1165.9,972.6 1166.3,972.9 1166.7,966.8 1167.1,967.0 1167.5,968.0 1167.9,962.9 1168.3,961.9 1168.7,963.4 1169.1,960.5 1169.5,958.1 1169.9,956.7 1170.3,953.4 1170.7,953.4 1171.1,950.9 1171.5,953.9 1171.9,949.0 1172.3,946.0 1172.7,944.9 1173.1,943.6 1173.5,939.7 1173.9,939.2 1174.3,941.8 1174.7,935.4 1175.1,935.4 1175.5,936.7 1175.9,936.1 1176.3,930.5 1176.7,933.3 1177.1,928.8 1177.5,930.8 1177.9,927.4 1178.3,924.7 1178.7,925.0 1179.1,923.2 1179.5,919.5 1179.9,923.0 1180.3,917.3 1180.7,918.4 1181.1,914.1 1181.5,910.4 1181.9,910.2 1182.3,910.5 1182.7,910.4 1183.1,910.8 1183.5,906.6 1183.9,904.6 1184.3,901.7 1184.7,902.4 1185.1,901.8 1185.5,896.3 1185.9,901.1 1186.3,899.6 1186.7,900.4 1187.1,893.9 1187.5,894.5 1187.9,893.4 1188.3,890.1 1188.7,889.9 1189.1,888.7 1189.5,890.3 1189.9,889.2 1190.3,889.9 1190.7,886.0 1191.1,883.5 1191.5,885.7 1191.9,884.8 1192.3,884.4 1192.7,884.6 1193.1,880.6 1193.5,882.1 1193.9,878.3 1194.3,879.4 1194.7,879.5 1195.1,877.3 1195.5,877.0 1195.9,873.5 1196.3,873.9 1196.7,874.6 1197.1,871.6 1197.5,871.5 1197.9,876.6 1198.3,872.4 1198.7,870.1 1199.1,869.3 1199.5,873.0 1199.9,865.7 1200.3,869.5 1200.7,870.9 1201.1,868.7 1201.5,870.4 1201.9,868.0 1202.3,870.0 1202.7,870.6 1203.1,871.3 1203.5,872.5 1203.9,873.4 1204.3,876.1 1204.7,875.5 1205.1,876.7 1205.5,879.0 1205.9,881.4 1206.3,883.2 1206.7,886.9 1207.1,893.9 1207.5,903.1 1207.9,910.5 1208.3,921.8 1208.7,929.5 1209.1,922.6 1209.5,910.7 1209.9,899.5 1210.3,888.2 1210.7,874.9 1211.1,863.2 1211.5,851.2 1211.9,839.5 1212.3,827.3 1212.7,817.4 1213.1,806.6 1213.5,798.2 1213.9,790.9 1214.3,783.9 1214.7,775.7 1215.1,771.6 1215.5,768.3 1215.9,767.6 1216.3,767.8 1216.7,769.9 1217.1,771.8 1217.5,775.9 1217.9,777.9 1218.3,782.0 1218.7,785.7 1219.1,787.5 1219.5,793.8 1219.9,800.6 1220.3,799.1 1220.7,804.6 1221.1,806.0 1221.5,808.5 1221.9,812.4 1222.3,815.0 1222.7,816.1 1223.1,816.7 1223.5,818.4 1223.9,814.7 1224.3,819.3 1224.7,818.8 1225.1,817.9 1225.5,818.2 1225.9,816.7 1226.3,820.0 1226.7,816.6 1227.1,815.2 1227.5,817.4 1227.9,816.1 1228.3,816.6 1228.7,818.9 1229.1,815.6 1229.5,815.6 1229.9,818.8 1230.3,812.1 1230.7,814.7 1231.1,815.6 1231.5,815.7 1231.9,816.5 1232.3,811.0 1232.7,812.7 1233.1,811.0 1233.5,809.9 1233.9,809.0 1234.3,807.2 1234.7,809.7 1235.1,809.9 1235.5,806.3 1235.9,809.0 1236.3,806.3 1236.7,805.0 1237.1,801.8 1237.5,807.7 1237.9,806.7 1238.3,804.5 1238.7,804.0 1239.1,802.1 1239.5,804.8 1239.9,803.5 1240.3,804.2 1240.7,803.2 1241.1,800.2 1241.5,799.7 1241.9,802.8 1242.3,798.9 1242.7,802.0 1243.1,802.8 1243.5,798.9 1243.9,802.0 1244.3,800.7 1244.7,801.3 1245.1,799.1 1245.5,800.0 1245.9,800.5 1246.3,802.7 1246.7,800.7 1247.1,800.1 1247.5,796.8 1247.9,799.4 1248.3,797.4 1248.7,798.3 1249.1,798.6 1249.5,799.6 1249.9,798.7 1250.3,797.8 1250.7,797.1 1251.1,799.3 1251.5,795.2 1251.9,796.5 1252.3,798.5 1252.7,795.5 1253.1,797.0 1253.5,796.8 1253.9,798.4 1254.3,796.6 1254.7,791.6 1255.1,794.1 1255.5,794.3 1255.9,795.0 1256.3,794.0 1256.7,796.3 1257.1,794.7 1257.5,790.5 1257.9,791.2 1258.3,788.5 1258.7,794.7 1259.1,791.3 1259.5,791.0 1259.9,788.3 1260.3,790.0 1260.7,791.2 1261.1,789.4 1261.5,789.2 1261.9,788.4 1262.3,792.6 1262.7,787.9 1263.1,786.0 1263.5,787.2 1263.9,787.1 1264.3,787.2 1264.7,786.5 1265.1,784.6 1265.5,785.8 1265.9,786.4 1266.3,782.9 1266.7,788.4 1267.1,787.5 1267.5,781.1 1267.9,783.2 1268.3,785.3 1268.7,785.5 1269.1,786.0 1269.5,779.5 1269.9,780.5 1270.3,781.3 1270.7,783.0 1271.1,780.0 1271.5,782.4 1271.9,782.3 1272.3,782.7 1272.7,779.1 1273.1,781.6 1273.5,781.3 1273.9,780.3 1274.3,783.2 1274.7,780.3 1275.1,783.2 1275.5,779.5 1275.9,783.3 1276.3,783.1 1276.7,778.6 1277.1,780.3 1277.5,780.0 1277.9,777.5 1278.3,780.2 1278.7,779.5 1279.1,776.6 1279.5,777.9 1279.9,778.9 1280.3,776.7 1280.7,775.4 1281.1,779.0 1281.5,774.1 1281.9,776.1 1282.3,777.1 1282.7,776.2 1283.1,771.3 1283.5,773.7 1283.9,773.7 1284.3,773.4 1284.7,774.6 1285.1,774.3 1285.5,773.4 1285.9,773.4 1286.3,774.6 1286.7,774.9 1287.1,769.3 1287.5,776.2 1287.9,771.4 1288.3,773.6 1288.7,769.3 1289.1,771.1 1289.5,769.7 1289.9,773.6 1290.3,773.1 1290.7,771.4 1291.1,771.0 1291.5,771.8 1291.9,769.3 1292.3,769.8 1292.7,769.3 1293.1,771.9 1293.5,770.4 1293.9,768.0 1294.3,770.6 1294.7,770.7 1295.1,772.1 1295.5,768.5 1295.9,770.0 1296.3,772.8 1296.7,768.5 1297.1,768.2 1297.5,769.6 1297.9,767.7 1298.3,768.5 1298.7,767.5 1299.1,766.9 1299.5,769.6 1299.9,767.4 1300.3,766.2 1300.7,767.4 1301.1,767.5 1301.5,768.2 1301.9,769.3 1302.3,770.7 1302.7,765.5 1303.1,767.1 1303.5,764.4 1303.9,767.9 1304.3,768.4 1304.7,766.3 1305.1,765.8 1305.5,765.6 1305.9,764.7 1306.3,768.2 1306.7,770.3 1307.1,765.0 1307.5,769.6 1307.9,766.5 1308.3,764.1 1308.7,767.3 1309.1,767.5 1309.5,766.6 1309.9,765.3 1310.3,768.4 1310.7,764.8 1311.1,766.2 1311.5,766.0 1311.9,763.1 1312.3,761.2 1312.7,761.2 1313.1,763.3 1313.5,764.4 1313.9,760.5 1314.3,762.2 1314.7,765.9 1315.1,760.0 1315.5,763.8 1315.9,763.4 1316.3,764.1 1316.7,760.1 1317.1,763.1 1317.5,760.1 1317.9,764.7 1318.3,760.9 1318.7,763.0 1319.1,761.0 1319.5,762.6 1319.9,759.7 1320.3,762.8 1320.7,763.3 1321.1,762.2 1321.5,764.9 1321.9,762.7 1322.3,763.3 1322.7,762.8 1323.1,765.0 1323.5,760.5 1323.9,761.0 1324.3,760.9 1324.7,762.1 1325.1,761.3 1325.5,762.0 1325.9,760.8 1326.3,759.2 1326.7,759.7 1327.1,760.3 1327.5,755.3 1327.9,761.4 1328.3,757.8 1328.7,757.9 1329.1,758.7 1329.5,757.6 1329.9,755.3 1330.3,757.3 1330.7,759.9 1331.1,759.1 1331.5,759.3 1331.9,756.1 1332.3,756.5 1332.7,758.6 1333.1,759.3 1333.5,756.6 1333.9,754.8 1334.3,753.0 1334.7,758.7 1335.1,753.5 1335.5,756.8 1335.9,757.5 1336.3,761.5 1336.7,756.1 1337.1,755.5 1337.5,756.4 1337.9,756.4 1338.3,757.8 1338.7,756.6 1339.1,754.0 1339.5,751.7 1339.9,755.8 1340.3,754.1 1340.7,757.8 1341.1,753.1 1341.5,755.7 1341.9,754.2 1342.3,754.0 1342.7,758.5 1343.1,756.0 1343.5,755.4 1343.9,757.1 1344.3,754.6 1344.7,755.4 1345.1,755.0 1345.5,759.6 1345.9,756.8 1346.3,757.3 1346.7,758.2 1347.1,755.9 1347.5,755.9 1347.9,753.2 1348.3,756.9 1348.7,756.4 1349.1,755.0 1349.5,757.7 1349.9,752.2 1350.3,755.9 1350.7,752.5 1351.1,752.7 1351.5,754.1 1351.9,756.5 1352.3,751.8 1352.7,751.9 1353.1,751.2 1353.5,756.7 1353.9,753.8 1354.3,753.4 1354.7,756.1 1355.1,752.7 1355.5,748.4 1355.9,751.0 1356.3,749.6 1356.7,755.2 1357.1,749.0 1357.5,751.9 1357.9,750.4 1358.3,750.5 1358.7,751.3 1359.1,750.9 1359.5,749.9 1359.9,749.0 1360.3,750.0 1360.7,749.3 1361.1,749.6 1361.5,751.4 1361.9,751.0 1362.3,752.2 1362.7,751.0 1363.1,754.9 1363.5,750.3 1363.9,749.9 1364.3,753.6 1364.7,750.6 1365.1,752.2 1365.5,753.8 1365.9,752.0 1366.3,751.7 1366.7,754.1 1367.1,753.1 1367.5,751.6 1367.9,750.5 1368.3,752.0 1368.7,749.8 1369.1,751.3 1369.5,750.9 1369.9,753.4 1370.3,754.2 1370.7,751.7 1371.1,752.1 1371.5,750.9 1371.9,750.4 1372.3,752.0 1372.7,753.7 1373.1,753.5 1373.5,753.7 1373.9,752.1 1374.3,747.7 1374.7,754.0 1375.1,754.7 1375.5,753.8 1375.9,753.7 1376.3,754.0 1376.7,756.6 1377.1,752.4 1377.5,754.4 1377.9,753.0 1378.3,752.7 1378.7,751.2 1379.1,750.7 1379.5,749.2 1379.9,752.2 1380.3,750.5 1380.7,748.9 1381.1,749.6 1381.5,748.8 1381.9,753.7 1382.3,750.4 1382.7,751.1 1383.1,748.7 1383.5,749.0 1383.9,752.7 1384.3,750.4 1384.7,751.2 1385.1,754.0 1385.5,754.4 1385.9,751.8 1386.3,751.4 1386.7,750.9 1387.1,749.8 1387.5,753.8 1387.9,748.0 1388.3,749.8 1388.7,746.4 1389.1,747.5 1389.5,750.3 1389.9,750.3 1390.3,749.9 1390.7,748.6 1391.1,747.9 1391.5,748.1 1391.9,748.3 1392.3,750.8 1392.7,751.4 1393.1,749.6 1393.5,747.8 1393.9,747.1 1394.3,749.3 1394.7,748.4 1395.1,745.6 1395.5,751.3 1395.9,748.9 1396.3,748.4 1396.7,747.5 1397.1,747.6 1397.5,750.8 1397.9,747.6 1398.3,749.6 1398.7,750.6 1399.1,752.9 1399.5,750.8 1399.9,749.8 1400.3,749.2 1400.7,751.6 1401.1,751.9 1401.5,749.4 1401.9,751.3 1402.3,750.0 1402.7,747.4 1403.1,748.5 1403.5,751.6 1403.9,752.7 1404.3,751.2 1404.7,749.5 1405.1,748.5 1405.5,750.5 1405.9,749.9 1406.3,746.2 1406.7,750.0 1407.1,747.3 1407.5,749.4 1407.9,748.9 1408.3,748.9 1408.7,749.2 1409.1,748.2 1409.5,744.8 1409.9,744.6 1410.3,747.9 1410.7,746.7 1411.1,742.8 1411.5,741.8 1411.9,746.7 1412.3,748.9 1412.7,746.3 1413.1,744.4 1413.5,745.2 1413.9,739.9 1414.3,742.9 1414.7,746.4 1415.1,746.2 1415.5,740.9 1415.9,746.8 1416.3,745.7 1416.7,746.5 1417.1,744.5 1417.5,744.9 1417.9,743.1 1418.3,745.6 1418.7,746.6 1419.1,743.4 1419.5,745.8 1419.9,744.2 1420.3,747.0 1420.7,746.9 1421.1,741.0 1421.5,746.0 1421.9,747.0 1422.3,744.2 1422.7,744.8 1423.1,744.9 1423.5,743.1 1423.9,744.9 1424.3,747.9 1424.7,746.0 1425.1,747.9 1425.5,746.9 1425.9,747.3 1426.3,745.5 1426.7,746.7 1427.1,748.9 1427.5,748.0 1427.9,746.0 1428.3,744.3 1428.7,744.0 1429.1,746.2 1429.5,746.6 1429.9,742.7 1430.3,746.5 1430.7,746.8 1431.1,746.9 1431.5,745.5 1431.9,750.7 1432.3,748.3 1432.7,744.4 1433.1,745.7 1433.5,748.5 1433.9,748.1 1434.3,747.5 1434.7,747.3 1435.1,747.0 1435.5,746.6 1435.9,745.6 1436.3,748.5 1436.7,742.5 1437.1,746.2 1437.5,749.6 1437.9,746.0 1438.3,745.3 1438.7,750.7 1439.1,749.2 1439.5,747.1 1439.9,746.3 1440.3,746.9 1440.7,746.7 1441.1,746.9 1441.5,746.1 1441.9,748.4 1442.3,746.4 1442.7,744.2 1443.1,745.2 1443.5,747.4 1443.9,745.6 1444.3,743.0 1444.7,749.9 1445.1,748.1 1445.5,746.2 1445.9,746.0 1446.3,747.7 1446.7,749.0 1447.1,745.3 1447.5,746.9 1447.9,744.9 1448.3,746.4 1448.7,743.6 1449.1,742.1 1449.5,745.3 1449.9,744.9 1450.3,746.1 1450.7,743.5 1451.1,747.0 1451.5,744.6 1451.9,747.1 1452.3,743.7 1452.7,746.9 1453.1,744.1 1453.5,744.5 1453.9,745.9 1454.3,741.1 1454.7,742.3 1455.1,747.4 1455.5,741.5 1455.9,743.3 1456.3,745.1 1456.7,746.7 1457.1,743.2 1457.5,744.2 1457.9,742.0 1458.3,743.2 1458.7,745.6 1459.1,744.3 1459.5,743.6 1459.9,744.3 1460.3,743.7 1460.7,743.6 1461.1,742.6 1461.5,741.5 1461.9,744.3 1462.3,741.0 1462.7,744.8 1463.1,746.8 1463.5,745.7 1463.9,747.1 1464.3,741.2 1464.7,743.5 1465.1,741.7 1465.5,741.9 1465.9,740.2 1466.3,741.1 1466.7,744.8 1467.1,744.6 1467.5,745.5 1467.9,745.4 1468.3,744.9 1468.7,742.1 1469.1,743.3 1469.5,744.8 1469.9,745.7 1470.3,742.8 1470.7,742.5 1471.1,742.6 1471.5,746.1 1471.9,744.2 1472.3,742.6 1472.7,741.7 1473.1,743.7 1473.5,739.9 1473.9,742.4 1474.3,741.7 1474.7,741.6 1475.1,743.0 1475.5,743.3 1475.9,747.9 1476.3,742.7 1476.7,743.7 1477.1,741.0 1477.5,739.5 1477.9,744.4 1478.3,745.9 1478.7,740.7 1479.1,742.4 1479.5,744.5 1479.9,742.7 1480.3,738.4 1480.7,744.5 1481.1,742.5 1481.5,744.1 1481.9,741.2 1482.3,744.6 1482.7,744.9 1483.1,741.9 1483.5,744.2 1483.9,742.3 1484.3,742.6 1484.7,742.0 1485.1,742.9 1485.5,742.5 1485.9,745.8 1486.3,743.4 1486.7,741.9 1487.1,746.3 1487.5,744.9 1487.9,745.7 1488.3,743.8 1488.7,745.2 1489.1,743.8 1489.5,742.3 1489.9,744.1 1490.3,744.2 1490.7,744.2 1491.1,745.5 1491.5,741.0 1491.9,744.6 1492.3,742.7 1492.7,743.7 1493.1,745.1 1493.5,744.5 1493.9,743.3 1494.3,746.0 1494.7,744.7 1495.1,746.6 1495.5,747.3 1495.9,744.7 1496.3,743.6 1496.7,745.8 1497.1,747.2 1497.5,746.5 1497.9,744.1 1498.3,743.3 1498.7,744.8 1499.1,744.9 1499.5,747.7 1499.9,746.8 1500.3,748.3 1500.7,746.7 1501.1,749.8 1501.5,747.1 1501.9,748.2 1502.3,746.8 1502.7,748.5 1503.1,750.0 1503.5,749.8 1503.9,751.1 1504.3,748.3 1504.7,750.6 1505.1,753.2 1505.5,751.3 1505.9,751.1 1506.3,751.6 1506.7,751.8 1507.1,753.9 1507.5,757.0 1507.9,756.8 1508.3,757.5 1508.7,757.9 1509.1,759.1 1509.5,765.7 1509.9,763.8 1510.3,767.0 1510.7,769.2 1511.1,773.5 1511.5,777.5 1511.9,785.1 1512.3,794.8 1512.7,801.9 1513.1,814.9 1513.5,821.2 1513.9,816.4 1514.3,804.8 1514.7,794.6 1515.1,782.5 1515.5,769.9 1515.9,758.3 1516.3,746.9 1516.7,736.1 1517.1,726.4 1517.5,718.1 1517.9,709.0 1518.3,702.0 1518.7,695.5 1519.1,689.4 1519.5,683.6 1519.9,679.9 1520.3,677.7 1520.7,677.3 1521.1,678.8 1521.5,681.0 1521.9,682.2 1522.3,686.6 1522.7,689.7 1523.1,695.2 1523.5,695.6 1523.9,700.8 1524.3,706.7 1524.7,709.9 1525.1,713.9 1525.5,718.2 1525.9,721.3 1526.3,724.9 1526.7,728.3 1527.1,727.0 1527.5,732.6 1527.9,729.7 1528.3,737.9 1528.7,738.0 1529.1,736.6 1529.5,740.3 1529.9,739.1 1530.3,740.8 1530.7,741.9 1531.1,741.8 1531.5,741.7 1531.9,743.1 1532.3,742.1 1532.7,742.0 1533.1,741.1 1533.5,739.8 1533.9,745.6 1534.3,744.2 1534.7,740.5 1535.1,743.5 1535.5,743.1 1535.9,738.9 1536.3,741.2 1536.7,742.4 1537.1,745.4 1537.5,744.2 1537.9,744.4 1538.3,742.7 1538.7,743.8 1539.1,740.0 1539.5,743.0 1539.9,743.1 1540.3,739.6 1540.7,742.1 1541.1,744.2 1541.5,744.9 1541.9,744.0 1542.3,740.4 1542.7,741.5 1543.1,740.8 1543.5,743.8 1543.9,740.3 1544.3,740.0 1544.7,739.1 1545.1,742.3 1545.5,742.7 1545.9,741.0 1546.3,740.7 1546.7,741.7 1547.1,744.4 1547.5,739.8 1547.9,742.0 1548.3,742.4 1548.7,742.7 1549.1,744.1 1549.5,743.4 1549.9,742.4 1550.3,744.3 1550.7,743.7 1551.1,742.2 1551.5,742.0 1551.9,739.5 1552.3,741.6 1552.7,740.0 1553.1,739.3 1553.5,740.6 1553.9,738.1 1554.3,739.4 1554.7,739.9 1555.1,741.3 1555.5,740.1 1555.9,741.2 1556.3,743.2 1556.7,741.8 1557.1,738.4 1557.5,737.2 1557.9,738.7 1558.3,738.7 1558.7,736.8 1559.1,737.2 1559.5,737.2 1559.9,739.1 1560.3,742.5 1560.7,743.0 1561.1,738.4 1561.5,739.4 1561.9,738.0 1562.3,737.6 1562.7,740.3 1563.1,740.6 1563.5,739.6 1563.9,741.9 1564.3,740.3 1564.7,742.9 1565.1,740.3 1565.5,742.8 1565.9,741.1 1566.3,741.8 1566.7,742.7 1567.1,739.5 1567.5,740.6 1567.9,741.9 1568.3,741.6 1568.7,742.6 1569.1,740.8 1569.5,740.0 1569.9,742.1 1570.3,742.9 1570.7,741.0 1571.1,744.5 1571.5,743.6 1571.9,743.9 1572.3,743.8 1572.7,741.0 1573.1,746.1 1573.5,741.3 1573.9,743.2 1574.3,743.8 1574.7,743.1 1575.1,742.9 1575.5,741.1 1575.9,741.8 1576.3,742.5 1576.7,744.6 1577.1,741.2 1577.5,743.5 1577.9,743.0 1578.3,742.3 1578.7,741.1 1579.1,741.7 1579.5,738.9 1579.9,741.9 1580.3,742.1 1580.7,740.6 1581.1,742.2 1581.5,741.7 1581.9,739.8 1582.3,742.3 1582.7,739.9 1583.1,744.8 1583.5,738.9 1583.9,739.2 1584.3,739.4 1584.7,740.9 1585.1,742.4 1585.5,740.6 1585.9,739.9 1586.3,743.8 1586.7,742.4 1587.1,740.3 1587.5,740.7 1587.9,738.4 1588.3,741.2 1588.7,744.1 1589.1,739.3 1589.5,739.0 1589.9,741.7 1590.3,737.5 1590.7,744.0 1591.1,739.0 1591.5,740.4 1591.9,741.3 1592.3,743.6 1592.7,742.2 1593.1,738.2 1593.5,738.5 1593.9,741.6 1594.3,737.6 1594.7,740.6 1595.1,739.6 1595.5,742.3 1595.9,742.8 1596.3,736.4 1596.7,741.4 1597.1,741.7 1597.5,739.2 1597.9,739.5 1598.3,738.4 1598.7,739.9 1599.1,741.1 1599.5,742.7 1599.9,742.9 1600.3,740.0 1600.7,739.2 1601.1,742.3 1601.5,736.0 1601.9,738.4 1602.3,741.9 1602.7,744.7 1603.1,739.6 1603.5,741.2 1603.9,739.2 1604.3,741.0 1604.7,741.0 1605.1,739.9 1605.5,741.9 1605.9,740.9 1606.3,742.0 1606.7,740.8 1607.1,739.0 1607.5,741.3 1607.9,742.4 1608.3,739.5 1608.7,743.1 1609.1,741.5 1609.5,740.0 1609.9,740.6 1610.3,739.7 1610.7,738.9 1611.1,741.9 1611.5,741.9 1611.9,739.6 1612.3,740.0 1612.7,740.0 1613.1,741.6 1613.5,743.1 1613.9,739.6 1614.3,741.3 1614.7,740.9 1615.1,742.1 1615.5,743.8 1615.9,740.0 1616.3,738.2 1616.7,741.6 1617.1,739.3 1617.5,745.1 1617.9,741.2 1618.3,742.1 1618.7,743.1 1619.1,743.1 1619.5,742.2 1619.9,743.0 1620.3,744.6 1620.7,742.6 1621.1,746.3 1621.5,743.8 1621.9,739.2 1622.3,744.7 1622.7,740.2 1623.1,743.7 1623.5,746.9 1623.9,744.8 1624.3,741.0 1624.7,741.5 1625.1,742.8 1625.5,745.1 1625.9,741.2 1626.3,744.2 1626.7,742.7 1627.1,741.8 1627.5,741.4 1627.9,744.4 1628.3,738.7 1628.7,739.1 1629.1,742.4 1629.5,742.3 1629.9,738.2 1630.3,738.6 1630.7,738.1 1631.1,740.8 1631.5,738.6 1631.9,742.0 1632.3,740.7 1632.7,739.7 1633.1,739.5 1633.5,740.0 1633.9,740.4 1634.3,738.8 1634.7,739.2 1635.1,740.0 1635.5,738.4 1635.9,740.1 1636.3,738.1 1636.7,737.0 1637.1,738.5 1637.5,740.9 1637.9,740.6 1638.3,735.2 1638.7,738.4 1639.1,737.0 1639.5,737.2 1639.9,737.2 1640.3,737.4 1640.7,736.9 1641.1,737.3 1641.5,738.2 1641.9,735.8 1642.3,735.8 1642.7,736.0 1643.1,736.1 1643.5,739.1 1643.9,736.3 1644.3,738.1 1644.7,738.5 1645.1,739.7 1645.5,738.6 1645.9,740.4 1646.3,738.6 1646.7,739.1 1647.1,740.0 1647.5,736.3 1647.9,739.4 1648.3,741.3 1648.7,738.9 1649.1,738.2 1649.5,741.8 1649.9,738.6 1650.3,740.4 1650.7,734.1 1651.1,738.1 1651.5,736.9 1651.9,738.3 1652.3,739.4 1652.7,737.0 1653.1,736.7 1653.5,732.1 1653.9,738.1 1654.3,738.9 1654.7,736.9 1655.1,735.7 1655.5,737.2 1655.9,738.3 1656.3,737.7 1656.7,740.2 1657.1,735.9 1657.5,734.7 1657.9,738.0 1658.3,739.5 1658.7,736.8 1659.1,737.8 1659.5,737.0 1659.9,736.2 1660.3,737.4 1660.7,735.4 1661.1,739.6 1661.5,740.2 1661.9,741.2 1662.3,738.5 1662.7,739.0 1663.1,737.5 1663.5,738.0 1663.9,742.2 1664.3,745.6 1664.7,739.2 1665.1,740.4 1665.5,742.8 1665.9,740.1 1666.3,742.3 1666.7,740.9 1667.1,740.9 1667.5,743.0 1667.9,741.1 1668.3,739.4 1668.7,743.0 1669.1,741.7 1669.5,740.7 1669.9,740.2 1670.3,742.6 1670.7,740.3 1671.1,741.7 1671.5,743.1 1671.9,741.1 1672.3,743.1 1672.7,738.7 1673.1,741.9 1673.5,741.6 1673.9,743.7 1674.3,740.3 1674.7,741.6 1675.1,739.6 1675.5,737.8 1675.9,737.8 1676.3,737.9 1676.7,740.2 1677.1,737.3 1677.5,738.5 1677.9,739.8 1678.3,740.2 1678.7,739.5 1679.1,740.4 1679.5,735.8 1679.9,736.9 1680.3,738.3 1680.7,739.7 1681.1,738.7 1681.5,736.6 1681.9,737.7 1682.3,735.3 1682.7,739.6 1683.1,735.4 1683.5,738.9 1683.9,740.6 1684.3,740.4 1684.7,736.3 1685.1,739.6 1685.5,738.8 1685.9,739.0 1686.3,742.5 1686.7,740.3 1687.1,737.5 1687.5,738.2 1687.9,741.4 1688.3,740.7 1688.7,738.4 1689.1,737.6 1689.5,739.6 1689.9,739.9 1690.3,742.1 1690.7,739.8 1691.1,742.0 1691.5,743.0 1691.9,738.3 1692.3,740.1 1692.7,743.8 1693.1,740.5 1693.5,741.3 1693.9,743.0 1694.3,740.0 1694.7,740.6 1695.1,738.5 1695.5,742.2 1695.9,740.4 1696.3,740.5 1696.7,736.7 1697.1,742.6 1697.5,742.0 1697.9,739.3 1698.3,742.6 1698.7,736.1 1699.1,740.0 1699.5,737.1 1699.9,744.4 1700.3,735.1 1700.7,737.3 1701.1,738.0 1701.5,740.5 1701.9,740.4 1702.3,739.6 1702.7,738.4 1703.1,742.4 1703.5,737.5 1703.9,739.3 1704.3,741.7 1704.7,736.7 1705.1,737.4 1705.5,740.8 1705.9,739.7 1706.3,736.8 1706.7,739.2 1707.1,742.5 1707.5,738.9 1707.9,740.8 1708.3,739.7 1708.7,738.4 1709.1,742.4 1709.5,741.3 1709.9,741.8 1710.3,739.5 1710.7,740.0 1711.1,740.2 1711.5,740.6 1711.9,739.2 1712.3,738.9 1712.7,741.9 1713.1,737.8 1713.5,738.8 1713.9,738.8 1714.3,738.5 1714.7,737.2 1715.1,737.8 1715.5,740.3 1715.9,738.2 1716.3,737.4 1716.7,741.4 1717.1,736.1 1717.5,740.1 1717.9,738.8 1718.3,735.8 1718.7,737.3 1719.1,737.3 1719.5,740.1 1719.9,739.5 1720.3,737.4 1720.7,735.9 1721.1,735.1 1721.5,737.8 1721.9,735.8 1722.3,738.0 1722.7,738.1 1723.1,739.3 1723.5,740.5 1723.9,739.2 1724.3,740.0 1724.7,739.1 1725.1,741.4 1725.5,741.1 1725.9,742.6 1726.3,742.4 1726.7,739.0 1727.1,737.8 1727.5,741.5 1727.9,742.4 1728.3,739.4 1728.7,743.1 1729.1,740.7 1729.5,740.3 1729.9,741.0 1730.3,737.9 1730.7,737.3 1731.1,739.4 1731.5,737.8 1731.9,739.6 1732.3,739.4 1732.7,734.8 1733.1,737.6 1733.5,739.7 1733.9,734.7 1734.3,737.9 1734.7,736.0 1735.1,734.9 1735.5,740.1 1735.9,740.0 1736.3,737.5 1736.7,737.4 1737.1,740.8 1737.5,740.6 1737.9,738.7 1738.3,740.4 1738.7,739.3 1739.1,738.9 1739.5,740.7 1739.9,739.2 1740.3,741.2 1740.7,740.0 1741.1,739.8 1741.5,739.8 1741.9,741.7 1742.3,742.6 1742.7,741.8 1743.1,739.7 1743.5,742.2 1743.9,739.5 1744.3,739.0 1744.7,740.5 1745.1,742.1 1745.5,741.7 1745.9,741.3 1746.3,742.5 1746.7,741.4 1747.1,739.1 1747.5,740.9 1747.9,738.9 1748.3,739.9 1748.7,740.1 1749.1,738.8 1749.5,736.3 1749.9,738.6 1750.3,738.2 1750.7,738.6 1751.1,738.1 1751.5,736.9 1751.9,736.2 1752.3,740.1 1752.7,740.4 1753.1,739.8 1753.5,739.2 1753.9,742.7 1754.3,740.7 1754.7,739.7 1755.1,741.1 1755.5,739.7 1755.9,741.0 1756.3,740.4 1756.7,740.8 1757.1,740.0 1757.5,739.1 1757.9,740.7 1758.3,741.7 1758.7,738.2 1759.1,738.8 1759.5,737.7 1759.9,740.9 1760.3,739.0 1760.7,740.7 1761.1,737.8 1761.5,740.4 1761.9,737.9 1762.3,738.0 1762.7,739.6 1763.1,737.9 1763.5,737.4 1763.9,739.8 1764.3,738.1 1764.7,740.2 1765.1,742.3 1765.5,737.0 1765.9,737.3 1766.3,735.2 1766.7,735.7 1767.1,738.7 1767.5,738.1 1767.9,738.0 1768.3,738.3 1768.7,736.1 1769.1,734.6 1769.5,739.3 1769.9,737.9 1770.3,739.4 1770.7,737.5 1771.1,738.8 1771.5,736.7 1771.9,737.6 1772.3,737.3 1772.7,738.3 1773.1,740.0 1773.5,738.8 1773.9,732.9 1774.3,737.6 1774.7,737.8 1775.1,739.2 1775.5,738.1 1775.9,736.8 1776.3,736.7 1776.7,737.5 1777.1,736.9 1777.5,740.5 1777.9,739.2 1778.3,738.4 1778.7,740.0 1779.1,742.1 1779.5,738.2 1779.9,738.6 1780.3,738.3 1780.7,736.9 1781.1,738.0 1781.5,737.6 1781.9,740.1 1782.3,740.2 1782.7,741.0 1783.1,738.4 1783.5,741.4 1783.9,738.2 1784.3,739.6 1784.7,742.1 1785.1,742.0 1785.5,741.8 1785.9,743.4 1786.3,741.6 1786.7,739.4 1787.1,739.4 1787.5,738.4 1787.9,740.0 1788.3,738.3 1788.7,738.4 1789.1,737.8 1789.5,736.5 1789.9,743.4 1790.3,740.7 1790.7,735.7 1791.1,739.9 1791.5,738.2 1791.9,735.5 1792.3,738.7 1792.7,739.4 1793.1,740.0 1793.5,740.9 1793.9,737.6 1794.3,738.9 1794.7,740.1 1795.1,739.9 1795.5,739.6 1795.9,739.1 1796.3,741.0 1796.7,736.7 1797.1,736.3 1797.5,741.7 1797.9,739.4 1798.3,740.5 1798.7,738.9 1799.1,737.8 1799.5,737.5 1799.9,738.4 1800.3,737.3 1800.7,737.8 1801.1,737.7 1801.5,739.1 1801.9,739.0 1802.3,740.2 1802.7,736.2 1803.1,737.3 1803.5,738.9 1803.9,737.8 1804.3,733.0 1804.7,737.7 1805.1,737.1 1805.5,736.3 1805.9,736.4 1806.3,735.9 1806.7,739.2 1807.1,738.4 1807.5,737.7 1807.9,739.4 1808.3,739.2 1808.7,736.3 1809.1,736.1 1809.5,736.3 1809.9,739.4 1810.3,738.3 1810.7,740.5 1811.1,739.4 1811.5,738.4 1811.9,736.7 1812.3,738.5 1812.7,742.8 1813.1,738.1 1813.5,738.0 1813.9,739.3 1814.3,742.2 1814.7,740.3 1815.1,738.9 1815.5,740.2 1815.9,741.5 1816.3,742.4 1816.7,744.5 1817.1,747.5 1817.5,746.3 1817.9,745.7 1818.3,745.4 1818.7,745.1 1819.1,748.5 1819.5,750.9 1819.9,751.7 1820.3,752.0 1820.7,754.9 1821.1,755.5 1821.5,757.6 1821.9,759.9 1822.3,762.9 1822.7,766.0 1823.1,771.0 1823.5,775.2 1823.9,782.8 1824.3,792.5 1824.7,801.7 1825.1,813.9 1825.5,816.4 1825.9,810.1 1826.3,798.2 1826.7,787.2 1827.1,775.6 1827.5,763.0 1827.9,751.4 1828.3,740.1 1828.7,730.2 1829.1,720.2 1829.5,712.1 1829.9,703.9 1830.3,697.3 1830.7,690.7 1831.1,685.3 1831.5,680.3 1831.9,674.6 1832.3,673.3 1832.7,672.8 1833.1,674.6 1833.5,677.6 1833.9,679.6 1834.3,682.8 1834.7,684.6 1835.1,687.8 1835.5,692.8 1835.9,696.3 1836.3,700.3 1836.7,703.3 1837.1,709.0 1837.5,713.4 1837.9,714.1 1838.3,718.2 1838.7,717.6 1839.1,721.2 1839.5,724.9 1839.9,724.3 1840.3,728.5 1840.7,728.4 1841.1,730.7 1841.5,730.0 1841.9,729.3 1842.3,732.2 1842.7,734.1 1843.1,732.7 1843.5,734.7 1843.9,733.4 1844.3,734.5 1844.7,737.6 1845.1,735.9 1845.5,734.8 1845.9,737.6 1846.3,737.1 1846.7,736.5 1847.1,738.8 1847.5,733.2 1847.9,739.3 1848.3,741.7 1848.7,739.3 1849.1,735.9 1849.5,741.4 1849.9,743.5 1850.3,740.4 1850.7,737.8 1851.1,738.5 1851.5,739.4 1851.9,739.9 1852.3,741.5 1852.7,740.5 1853.1,735.8 1853.5,738.9 1853.9,739.1 1854.3,742.4 1854.7,738.3 1855.1,736.8 1855.5,738.5 1855.9,739.4 1856.3,735.8 1856.7,740.6 1857.1,738.5 1857.5,740.0 1857.9,739.7 1858.3,739.3 1858.7,740.7 1859.1,741.1 1859.5,737.6 1859.9,738.1 1860.3,739.9 1860.7,738.4 1861.1,737.1 1861.5,738.3 1861.9,736.7 1862.3,737.2 1862.7,732.4 1863.1,738.3 1863.5,741.1 1863.9,739.2 1864.3,739.2 1864.7,738.3 1865.1,736.7 1865.5,738.8 1865.9,738.1 1866.3,737.7 1866.7,738.3 1867.1,737.0 1867.5,738.1 1867.9,739.0 1868.3,739.5 1868.7,738.1 1869.1,739.2 1869.5,738.2 1869.9,734.2 1870.3,734.8 1870.7,737.7 1871.1,736.3 1871.5,739.1 1871.9,736.1 1872.3,737.8 1872.7,737.7 1873.1,737.6 1873.5,738.0 1873.9,739.1 1874.3,739.5 1874.7,738.7 1875.1,740.1 1875.5,740.9 1875.9,739.9 1876.3,739.3 1876.7,739.5 1877.1,740.0 1877.5,740.1 1877.9,741.3 1878.3,745.8 1878.7,743.3 1879.1,741.6 1879.5,742.6 1879.9,742.7 1880.3,743.9 1880.7,744.2 1881.1,740.3 1881.5,745.6 1881.9,740.4 1882.3,742.0 1882.7,740.4 1883.1,738.9 1883.5,738.7 1883.9,744.8 1884.3,743.9 1884.7,739.7 1885.1,739.3 1885.5,743.5 1885.9,739.3 1886.3,741.5 1886.7,744.0 1887.1,741.7 1887.5,742.8 1887.9,740.6 1888.3,737.3 1888.7,738.7 1889.1,737.0 1889.5,740.5 1889.9,737.7 1890.3,740.1 1890.7,739.1 1891.1,738.8 1891.5,740.9 1891.9,739.3 1892.3,738.8 1892.7,742.0 1893.1,740.4 1893.5,738.1 1893.9,742.7 1894.3,738.4 1894.7,741.3 1895.1,741.9 1895.5,740.6 1895.9,739.7 1896.3,740.6 1896.7,740.6 1897.1,739.3 1897.5,742.6 1897.9,740.1 1898.3,739.9 1898.7,743.3 1899.1,739.7 1899.5,738.3 1899.9,740.6 1900.3,740.6 1900.7,740.5 1901.1,743.9 1901.5,739.4 1901.9,742.5 1902.3,741.6 1902.7,742.5 1903.1,739.9 1903.5,739.5 1903.9,739.7 1904.3,740.6 1904.7,741.7 1905.1,742.9 1905.5,737.2 1905.9,742.0 1906.3,740.9 1906.7,740.4 1907.1,738.6 1907.5,741.0 1907.9,737.4 1908.3,742.6 1908.7,738.9 1909.1,740.3 1909.5,740.2 1909.9,741.4 1910.3,738.2 1910.7,741.7 1911.1,741.0 1911.5,742.8 1911.9,740.6 1912.3,739.8 1912.7,736.8 1913.1,739.3 1913.5,742.6 1913.9,739.0 1914.3,738.9 1914.7,739.5 1915.1,741.1 1915.5,736.7 1915.9,742.7 1916.3,740.7 1916.7,741.0 1917.1,739.8 1917.5,743.1 1917.9,739.1 1918.3,741.3 1918.7,740.1 1919.1,737.9 1919.5,739.9 1919.9,741.3 1920.3,739.7 1920.7,739.6 1921.1,740.3 1921.5,738.9 1921.9,738.5 1922.3,740.5 1922.7,738.9 1923.1,741.4 1923.5,741.7 1923.9,742.7 1924.3,742.2 1924.7,740.1 1925.1,741.3 1925.5,738.7 1925.9,741.3 1926.3,739.8 1926.7,742.9 1927.1,739.5 1927.5,740.9 1927.9,739.4 1928.3,741.7 1928.7,741.7 1929.1,738.9 1929.5,743.8 1929.9,741.3 1930.3,738.0 1930.7,738.7 1931.1,737.1 1931.5,736.6 1931.9,739.5 1932.3,736.1 1932.7,740.0 1933.1,736.4 1933.5,738.2 1933.9,741.5 1934.3,737.7 1934.7,738.0 1935.1,739.9 1935.5,737.0 1935.9,738.3 1936.3,735.8 1936.7,736.3 1937.1,737.0 1937.5,736.7 1937.9,735.3 1938.3,736.8 1938.7,737.4 1939.1,737.5 1939.5,736.5 1939.9,734.9 1940.3,737.7 1940.7,738.1 1941.1,735.1 1941.5,733.1 1941.9,736.8 1942.3,739.0 1942.7,739.0 1943.1,735.7 1943.5,740.2 1943.9,736.7 1944.3,739.9 1944.7,737.9 1945.1,740.5 1945.5,739.9 1945.9,738.9 1946.3,740.7 1946.7,738.6 1947.1,739.2 1947.5,739.5 1947.9,738.7 1948.3,741.9 1948.7,742.0 1949.1,740.6 1949.5,739.0 1949.9,741.5 1950.3,741.3 1950.7,741.9 1951.1,740.9 1951.5,740.6 1951.9,743.3 1952.3,740.0 1952.7,740.7 1953.1,738.0 1953.5,740.4 1953.9,740.2 1954.3,739.4 1954.7,739.5 1955.1,735.9 1955.5,737.6 1955.9,736.7" stroke="#DC4E4D" stroke-width="7.5" stroke-linejoin="round" stroke-linecap="round"/>
<path d="M1038,460.9V925.8M1151,460.9V925.8" stroke="#157DC0" stroke-width="4" stroke-dasharray="12.85 8.97"/>
<path d="M1062,122.1V1239.9" stroke="#DC4E4D" stroke-width="3.95" stroke-dasharray="13.2 8.624"/>
<path d="M1122,124.05V1241.85" stroke="#DC4E4D" stroke-width="3.95" stroke-dasharray="13.2 8.624"/>
</g>
<path d="M679,167.4H741.6" stroke="#2280C0" stroke-width="7" stroke-linecap="round" shape-rendering="crispEdges"/>
<path d="M679,272.6H741.6" stroke="#DC4E4D" stroke-width="7" stroke-linecap="round" shape-rendering="crispEdges"/>
<text class="lg" transform="translate(747.5,192) scale(1,1.03)">MJ10</text>
<text class="lg" transform="translate(747.5,297) scale(1,1.03)">KB</text>
<g stroke="#000" fill="none">
<path d="M139.5,1308.8V53.4H2207.4V1308.8" stroke-width="7.1" stroke-linejoin="miter"/>
<path d="M136.0,1284.8H2210.9" stroke-width="8"/>
<path d="M311.8,1284.8V1302.8M484.2,1284.8V1308.8M656.5,1284.8V1302.8M828.8,1284.8V1308.8M1001.1,1284.8V1302.8M1173.5,1284.8V1308.8M1345.8,1284.8V1302.8M1518.1,1284.8V1308.8M1690.4,1284.8V1302.8M1862.8,1284.8V1308.8M2035.1,1284.8V1302.8" stroke-width="8"/>
</g>
<text class="tk" transform="translate(139.5,1402.6) scale(1,1.04)">300</text>
<text class="tk" transform="translate(484.2,1402.6) scale(1,1.04)">310</text>
<text class="tk" transform="translate(828.8,1402.6) scale(1,1.04)">320</text>
<text class="tk" transform="translate(1173.5,1402.6) scale(1,1.04)">330</text>
<text class="tk" transform="translate(1518.1,1402.6) scale(1,1.04)">340</text>
<text class="tk" transform="translate(1862.8,1402.6) scale(1,1.04)">350</text>
<text class="tk" transform="translate(2207.4,1402.6) scale(1,1.04)">360</text>
<text class="ax" transform="translate(1173.5,1500.9) scale(1,1.036)">H / mT</text>
<text class="ay" transform="translate(119.2,669.3) rotate(-90) scale(1,0.985)">Intensity / a.u.</text>
</svg></body></html>
